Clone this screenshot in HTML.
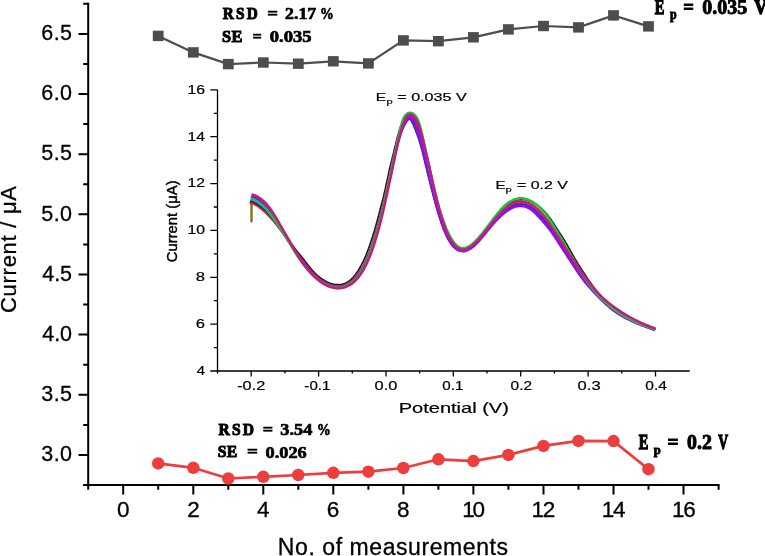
<!DOCTYPE html>
<html><head><meta charset="utf-8"><style>html,body{margin:0;padding:0;background:#fff;overflow:hidden}svg{display:block;will-change:transform}</style></head>
<body>
<svg width="765" height="556" viewBox="0 0 765 556">
<rect width="100%" height="100%" fill="#fff"/>
<g stroke="#000" stroke-width="2" fill="none" stroke-linecap="butt">
<path d="M88.2 2.8 V486.0 M83.2 485 H719.6"/>
<path d="M83.2 485.0 H88 M78.5 454.9 H88 M83.2 424.9 H88 M78.5 394.8 H88 M83.2 364.7 H88 M78.5 334.6 H88 M83.2 304.6 H88 M78.5 274.5 H88 M83.2 244.4 H88 M78.5 214.3 H88 M83.2 184.2 H88 M78.5 154.2 H88 M83.2 124.1 H88 M78.5 94.0 H88 M83.2 63.9 H88 M78.5 33.9 H88 M83.2 3.8 H88 M88.2 485 V489.8 M123.2 485 V494.5 M158.2 485 V489.8 M193.3 485 V494.5 M228.3 485 V489.8 M263.3 485 V494.5 M298.3 485 V489.8 M333.3 485 V494.5 M368.4 485 V489.8 M403.4 485 V494.5 M438.4 485 V489.8 M473.4 485 V494.5 M508.4 485 V489.8 M543.5 485 V494.5 M578.5 485 V489.8 M613.5 485 V494.5 M648.5 485 V489.8 M683.5 485 V494.5 M718.6 485 V489.8"/>
</g>
<text transform="translate(16.2,313) rotate(-90)" font-family="&quot;Liberation Sans&quot;, sans-serif" font-size="22" fill="#000" stroke="#000" stroke-width="0.3" textLength="127" lengthAdjust="spacing">Current / μA</text>
<polyline points="158.2,35.9 193.3,52.4 228.3,64.1 263.3,62.5 298.3,63.7 333.3,61.3 368.4,63.4 403.4,40.4 438.4,41.2 473.4,37.3 508.4,29.4 543.5,26.0 578.5,27.4 613.5,15.4 648.5,26.4" fill="none" stroke="#4d4d4d" stroke-width="2.2"/>
<rect x="152.8" y="30.7" width="10.8" height="10.4" fill="#4d4d4d"/>
<rect x="187.9" y="47.2" width="10.8" height="10.4" fill="#4d4d4d"/>
<rect x="222.9" y="58.9" width="10.8" height="10.4" fill="#4d4d4d"/>
<rect x="257.9" y="57.3" width="10.8" height="10.4" fill="#4d4d4d"/>
<rect x="292.9" y="58.5" width="10.8" height="10.4" fill="#4d4d4d"/>
<rect x="327.9" y="56.1" width="10.8" height="10.4" fill="#4d4d4d"/>
<rect x="363.0" y="58.2" width="10.8" height="10.4" fill="#4d4d4d"/>
<rect x="398.0" y="35.2" width="10.8" height="10.4" fill="#4d4d4d"/>
<rect x="433.0" y="36.0" width="10.8" height="10.4" fill="#4d4d4d"/>
<rect x="468.0" y="32.1" width="10.8" height="10.4" fill="#4d4d4d"/>
<rect x="503.0" y="24.2" width="10.8" height="10.4" fill="#4d4d4d"/>
<rect x="538.1" y="20.8" width="10.8" height="10.4" fill="#4d4d4d"/>
<rect x="573.1" y="22.2" width="10.8" height="10.4" fill="#4d4d4d"/>
<rect x="608.1" y="10.2" width="10.8" height="10.4" fill="#4d4d4d"/>
<rect x="643.1" y="21.2" width="10.8" height="10.4" fill="#4d4d4d"/>
<polyline points="158.2,463.4 193.3,467.8 228.3,478.5 263.3,476.8 298.3,475.0 333.3,472.8 368.4,471.7 403.4,468.0 438.4,459.3 473.4,461.1 508.4,454.9 543.5,445.9 578.5,440.9 613.5,441.1 648.5,469.2" fill="none" stroke="#ee3d3d" stroke-width="2.7"/>
<circle cx="158.2" cy="463.4" r="6.25" fill="#ee3d3d"/>
<circle cx="193.3" cy="467.8" r="6.25" fill="#ee3d3d"/>
<circle cx="228.3" cy="478.5" r="6.25" fill="#ee3d3d"/>
<circle cx="263.3" cy="476.8" r="6.25" fill="#ee3d3d"/>
<circle cx="298.3" cy="475.0" r="6.25" fill="#ee3d3d"/>
<circle cx="333.3" cy="472.8" r="6.25" fill="#ee3d3d"/>
<circle cx="368.4" cy="471.7" r="6.25" fill="#ee3d3d"/>
<circle cx="403.4" cy="468.0" r="6.25" fill="#ee3d3d"/>
<circle cx="438.4" cy="459.3" r="6.25" fill="#ee3d3d"/>
<circle cx="473.4" cy="461.1" r="6.25" fill="#ee3d3d"/>
<circle cx="508.4" cy="454.9" r="6.25" fill="#ee3d3d"/>
<circle cx="543.5" cy="445.9" r="6.25" fill="#ee3d3d"/>
<circle cx="578.5" cy="440.9" r="6.25" fill="#ee3d3d"/>
<circle cx="613.5" cy="441.1" r="6.25" fill="#ee3d3d"/>
<circle cx="648.5" cy="469.2" r="6.25" fill="#ee3d3d"/>
<g stroke="#000" stroke-width="1.3" fill="none">
<path d="M217.5 89.8 V371.6 M217 371.0 H689.8"/>
<path d="M210.3 371.0 H217.5 M213.8 347.6 H217.5 M210.3 324.1 H217.5 M213.8 300.7 H217.5 M210.3 277.3 H217.5 M213.8 253.8 H217.5 M210.3 230.4 H217.5 M213.8 207.0 H217.5 M210.3 183.6 H217.5 M213.8 160.1 H217.5 M210.3 136.7 H217.5 M213.8 113.3 H217.5 M210.3 89.8 H217.5 M217.5 371 V373.6 M251.2 371 V376.4 M284.9 371 V373.6 M318.6 371 V376.4 M352.3 371 V373.6 M386.0 371 V376.4 M419.6 371 V373.6 M453.3 371 V376.4 M487.0 371 V373.6 M520.7 371 V376.4 M554.4 371 V373.6 M588.1 371 V376.4 M621.8 371 V373.6 M655.5 371 V376.4"/>
</g>
<g fill="#000"><text x="41.32" y="461.12" font-family="'Liberation Sans', sans-serif" font-size="21.5" stroke="#000" stroke-width="0.3" textLength="30.75" lengthAdjust="spacing">3.0</text><text x="41.32" y="400.97" font-family="'Liberation Sans', sans-serif" font-size="21.5" stroke="#000" stroke-width="0.3" textLength="30.75" lengthAdjust="spacing">3.5</text><text x="42.32" y="340.82" font-family="'Liberation Sans', sans-serif" font-size="21.5" stroke="#000" stroke-width="0.3" textLength="29.75" lengthAdjust="spacing">4.0</text><text x="42.32" y="280.68" font-family="'Liberation Sans', sans-serif" font-size="21.5" stroke="#000" stroke-width="0.3" textLength="29.75" lengthAdjust="spacing">4.5</text><text x="41.32" y="220.52" font-family="'Liberation Sans', sans-serif" font-size="21.5" stroke="#000" stroke-width="0.3" textLength="30.75" lengthAdjust="spacing">5.0</text><text x="41.32" y="160.38" font-family="'Liberation Sans', sans-serif" font-size="21.5" stroke="#000" stroke-width="0.3" textLength="30.75" lengthAdjust="spacing">5.5</text><text x="41.32" y="100.23" font-family="'Liberation Sans', sans-serif" font-size="21.5" stroke="#000" stroke-width="0.3" textLength="30.75" lengthAdjust="spacing">6.0</text><text x="41.32" y="40.08" font-family="'Liberation Sans', sans-serif" font-size="21.5" stroke="#000" stroke-width="0.3" textLength="30.75" lengthAdjust="spacing">6.5</text><text x="116.94" y="517.00" font-family="'Liberation Sans', sans-serif" font-size="22.5" stroke="#000" stroke-width="0.3">0</text><text x="187.18" y="517.00" font-family="'Liberation Sans', sans-serif" font-size="22.5" stroke="#000" stroke-width="0.3">2</text><text x="256.93" y="517.00" font-family="'Liberation Sans', sans-serif" font-size="22.5" stroke="#000" stroke-width="0.3">4</text><text x="326.67" y="517.00" font-family="'Liberation Sans', sans-serif" font-size="22.5" stroke="#000" stroke-width="0.3">6</text><text x="396.91" y="517.00" font-family="'Liberation Sans', sans-serif" font-size="22.5" stroke="#000" stroke-width="0.3">8</text><text x="462.20" y="517.00" font-family="'Liberation Sans', sans-serif" font-size="22.5" stroke="#000" stroke-width="0.3" textLength="22.85" lengthAdjust="spacing">10</text><text x="531.44" y="517.00" font-family="'Liberation Sans', sans-serif" font-size="22.5" stroke="#000" stroke-width="0.3" textLength="23.85" lengthAdjust="spacing">12</text><text x="601.68" y="517.00" font-family="'Liberation Sans', sans-serif" font-size="22.5" stroke="#000" stroke-width="0.3" textLength="23.85" lengthAdjust="spacing">14</text><text x="671.92" y="517.00" font-family="'Liberation Sans', sans-serif" font-size="22.5" stroke="#000" stroke-width="0.3" textLength="23.85" lengthAdjust="spacing">16</text><text x="277.85" y="554.90" font-family="'Liberation Sans', sans-serif" font-size="23" stroke="#000" stroke-width="0.3" textLength="230.10" lengthAdjust="spacing">No. of measurements</text><text letter-spacing="2.54" x="222.73" y="18.80" font-family="'Liberation Serif', serif" font-weight="bold" font-size="17.4" stroke="#000" stroke-width="1.0" textLength="37.34" lengthAdjust="spacingAndGlyphs">RSD</text><text x="267.33" y="18.80" font-family="'Liberation Serif', serif" font-weight="bold" font-size="17.4" stroke="#000" stroke-width="0.7" textLength="10.74" lengthAdjust="spacingAndGlyphs">=</text><text x="319.93" y="18.80" font-family="'Liberation Serif', serif" font-weight="bold" font-size="17.4" stroke="#000" stroke-width="0.7" textLength="13.74" lengthAdjust="spacingAndGlyphs">%</text><text x="285.14" y="19.10" font-family="'Liberation Serif', serif" font-weight="bold" font-size="17.2" stroke="#000" stroke-width="0.7" textLength="31.12" lengthAdjust="spacingAndGlyphs">2.17</text><text letter-spacing="0.52" x="221.93" y="42.10" font-family="'Liberation Serif', serif" font-weight="bold" font-size="17.4" stroke="#000" stroke-width="1.0" textLength="20.94" lengthAdjust="spacingAndGlyphs">SE</text><text x="252.53" y="42.10" font-family="'Liberation Serif', serif" font-weight="bold" font-size="17.4" stroke="#000" stroke-width="0.7" textLength="9.34" lengthAdjust="spacingAndGlyphs">=</text><text x="269.74" y="42.30" font-family="'Liberation Serif', serif" font-weight="bold" font-size="17.2" stroke="#000" stroke-width="0.7" textLength="41.92" lengthAdjust="spacingAndGlyphs">0.035</text><text letter-spacing="2.37" x="218.53" y="434.60" font-family="'Liberation Serif', serif" font-weight="bold" font-size="17.4" stroke="#000" stroke-width="1.0" textLength="37.54" lengthAdjust="spacingAndGlyphs">RSD</text><text x="262.73" y="434.60" font-family="'Liberation Serif', serif" font-weight="bold" font-size="17.4" stroke="#000" stroke-width="0.7" textLength="10.34" lengthAdjust="spacingAndGlyphs">=</text><text x="316.93" y="434.60" font-family="'Liberation Serif', serif" font-weight="bold" font-size="17.4" stroke="#000" stroke-width="0.7" textLength="13.74" lengthAdjust="spacingAndGlyphs">%</text><text x="280.34" y="434.90" font-family="'Liberation Serif', serif" font-weight="bold" font-size="17.2" stroke="#000" stroke-width="0.7" textLength="31.92" lengthAdjust="spacingAndGlyphs">3.54</text><text letter-spacing="0.29" x="217.73" y="457.40" font-family="'Liberation Serif', serif" font-weight="bold" font-size="17.4" stroke="#000" stroke-width="1.0" textLength="19.74" lengthAdjust="spacingAndGlyphs">SE</text><text x="247.13" y="457.40" font-family="'Liberation Serif', serif" font-weight="bold" font-size="17.4" stroke="#000" stroke-width="0.7" textLength="10.94" lengthAdjust="spacingAndGlyphs">=</text><text x="265.54" y="457.60" font-family="'Liberation Serif', serif" font-weight="bold" font-size="17.2" stroke="#000" stroke-width="0.7" textLength="41.12" lengthAdjust="spacingAndGlyphs">0.026</text><text x="654.77" y="13.70" font-family="'Liberation Serif', serif" font-weight="bold" font-size="20.5" stroke="#000" stroke-width="1.3" textLength="9.65" lengthAdjust="spacingAndGlyphs">E</text><text x="683.37" y="13.70" font-family="'Liberation Serif', serif" font-weight="bold" font-size="20.5" stroke="#000" stroke-width="0.9" textLength="10.65" lengthAdjust="spacingAndGlyphs">=</text><text x="702.37" y="13.70" font-family="'Liberation Serif', serif" font-weight="bold" font-size="20.5" stroke="#000" stroke-width="0.9" textLength="44.85" lengthAdjust="spacingAndGlyphs">0.035</text><text x="754.37" y="13.70" font-family="'Liberation Serif', serif" font-weight="bold" font-size="20.5" stroke="#000" stroke-width="1.3" textLength="12.85" lengthAdjust="spacingAndGlyphs">V</text><text x="669.88" y="18.70" font-family="'Liberation Serif', serif" font-weight="bold" font-size="14.5" stroke="#000" stroke-width="0.9" textLength="6.65" lengthAdjust="spacingAndGlyphs">p</text><text x="638.80" y="448.70" font-family="'Liberation Serif', serif" font-weight="bold" font-size="20" stroke="#000" stroke-width="1.3" textLength="9.60" lengthAdjust="spacingAndGlyphs">E</text><text x="667.60" y="448.70" font-family="'Liberation Serif', serif" font-weight="bold" font-size="20" stroke="#000" stroke-width="0.9" textLength="11.00" lengthAdjust="spacingAndGlyphs">=</text><text x="687.00" y="448.70" font-family="'Liberation Serif', serif" font-weight="bold" font-size="20" stroke="#000" stroke-width="0.9" textLength="24.80" lengthAdjust="spacingAndGlyphs">0.2</text><text x="718.20" y="448.70" font-family="'Liberation Serif', serif" font-weight="bold" font-size="20" stroke="#000" stroke-width="1.3" textLength="9.80" lengthAdjust="spacingAndGlyphs">V</text><text x="653.72" y="454.10" font-family="'Liberation Serif', serif" font-weight="bold" font-size="13.5" stroke="#000" stroke-width="0.9" textLength="6.95" lengthAdjust="spacingAndGlyphs">p</text><text x="196.78" y="374.90" font-family="'Liberation Sans', sans-serif" font-size="12.5" stroke="#000" stroke-width="0.2" textLength="8.25" lengthAdjust="spacingAndGlyphs">4</text><text x="195.78" y="328.04" font-family="'Liberation Sans', sans-serif" font-size="12.5" stroke="#000" stroke-width="0.2" textLength="9.25" lengthAdjust="spacingAndGlyphs">6</text><text x="195.78" y="281.18" font-family="'Liberation Sans', sans-serif" font-size="12.5" stroke="#000" stroke-width="0.2" textLength="9.25" lengthAdjust="spacingAndGlyphs">8</text><text x="187.58" y="234.32" font-family="'Liberation Sans', sans-serif" font-size="12.5" stroke="#000" stroke-width="0.2" textLength="17.45" lengthAdjust="spacingAndGlyphs">10</text><text x="187.58" y="187.46" font-family="'Liberation Sans', sans-serif" font-size="12.5" stroke="#000" stroke-width="0.2" textLength="17.45" lengthAdjust="spacingAndGlyphs">12</text><text x="187.58" y="140.60" font-family="'Liberation Sans', sans-serif" font-size="12.5" stroke="#000" stroke-width="0.2" textLength="17.45" lengthAdjust="spacingAndGlyphs">14</text><text x="187.58" y="93.74" font-family="'Liberation Sans', sans-serif" font-size="12.5" stroke="#000" stroke-width="0.2" textLength="17.45" lengthAdjust="spacingAndGlyphs">16</text><text x="237.18" y="390.10" font-family="'Liberation Sans', sans-serif" font-size="12.4" stroke="#000" stroke-width="0.2" textLength="28.04" lengthAdjust="spacingAndGlyphs">-0.2</text><text x="304.38" y="390.10" font-family="'Liberation Sans', sans-serif" font-size="12.4" stroke="#000" stroke-width="0.2" textLength="26.04" lengthAdjust="spacingAndGlyphs">-0.1</text><text x="374.58" y="390.10" font-family="'Liberation Sans', sans-serif" font-size="12.4" stroke="#000" stroke-width="0.2" textLength="22.84" lengthAdjust="spacingAndGlyphs">0.0</text><text x="442.38" y="390.10" font-family="'Liberation Sans', sans-serif" font-size="12.4" stroke="#000" stroke-width="0.2" textLength="21.04" lengthAdjust="spacingAndGlyphs">0.1</text><text x="510.58" y="390.10" font-family="'Liberation Sans', sans-serif" font-size="12.4" stroke="#000" stroke-width="0.2" textLength="21.44" lengthAdjust="spacingAndGlyphs">0.2</text><text x="577.58" y="390.10" font-family="'Liberation Sans', sans-serif" font-size="12.4" stroke="#000" stroke-width="0.2" textLength="23.04" lengthAdjust="spacingAndGlyphs">0.3</text><text x="645.38" y="390.10" font-family="'Liberation Sans', sans-serif" font-size="12.4" stroke="#000" stroke-width="0.2" textLength="21.64" lengthAdjust="spacingAndGlyphs">0.4</text><text x="398.68" y="412.50" font-family="'Liberation Sans', sans-serif" font-size="14.4" stroke="#000" stroke-width="0.2" textLength="110.24" lengthAdjust="spacingAndGlyphs">Potential (V)</text><text x="375.83" y="100.70" font-family="'Liberation Sans', sans-serif" font-size="11.3" stroke="#000" stroke-width="0.2" textLength="10.33" lengthAdjust="spacingAndGlyphs">E</text><text x="386.60" y="104.30" font-family="'Liberation Sans', sans-serif" font-size="8" stroke="#000" stroke-width="0.2" textLength="6.20" lengthAdjust="spacingAndGlyphs">p</text><text x="397.24" y="100.70" font-family="'Liberation Sans', sans-serif" font-size="11.3" stroke="#000" stroke-width="0.2" textLength="69.53" lengthAdjust="spacingAndGlyphs">= 0.035 V</text><text x="495.44" y="188.90" font-family="'Liberation Sans', sans-serif" font-size="11.3" stroke="#000" stroke-width="0.2" textLength="10.13" lengthAdjust="spacingAndGlyphs">E</text><text x="505.60" y="191.90" font-family="'Liberation Sans', sans-serif" font-size="8" stroke="#000" stroke-width="0.2" textLength="6.20" lengthAdjust="spacingAndGlyphs">p</text><text x="517.04" y="188.90" font-family="'Liberation Sans', sans-serif" font-size="11.3" stroke="#000" stroke-width="0.2" textLength="50.93" lengthAdjust="spacingAndGlyphs">= 0.2 V</text></g>
<text transform="translate(176.8,262.2) rotate(-90)" font-family="&quot;Liberation Sans&quot;, sans-serif" font-size="14" fill="#000" stroke="#000" stroke-width="0.45" textLength="81.8" lengthAdjust="spacingAndGlyphs">Current (μA)</text>
<g fill="none" stroke-linejoin="round" stroke-linecap="round">
<path d="M251.5 200.5 V221" stroke="#857514" stroke-width="2.4" stroke-linecap="butt"/>
<circle cx="251.5" cy="221.5" r="1.1" fill="#c020c0" stroke="none"/>
<path d="M250.6 202.2 L251.5 202.4 L252.3 202.7 L253.1 203.0 L254.0 203.4 L254.8 203.8 L255.6 204.2 L256.4 204.6 L257.2 205.1 L258.1 205.6 L258.9 206.2 L259.7 206.7 L260.4 207.3 L261.2 207.9 L262.0 208.6 L262.8 209.2 L263.5 209.9 L264.3 210.5 L265.0 211.2 L265.8 211.9 L266.5 212.6 L267.3 213.4 L268.0 214.1 L268.7 214.8 L269.4 215.6 L270.1 216.4 L270.8 217.1 L271.5 217.9 L272.2 218.7 L272.9 219.5 L273.6 220.3 L274.3 221.1 L274.9 221.9 L275.6 222.7 L276.3 223.5 L276.9 224.3 L277.6 225.2 L278.2 226.0 L278.9 226.8 L279.5 227.7 L280.1 228.5 L280.8 229.4 L281.4 230.2 L282.0 231.1 L282.6 231.9 L283.3 232.8 L283.9 233.6 L284.5 234.5 L285.1 235.3 L285.7 236.2 L286.4 237.0 L287.0 237.9 L287.6 238.8 L288.2 239.6 L288.8 240.5 L289.4 241.3 L290.1 242.2 L290.7 243.0 L291.3 243.9 L291.9 244.7 L292.6 245.6 L293.2 246.4 L293.9 247.2 L294.5 248.1 L295.2 248.9 L295.8 249.7 L296.5 250.6 L297.2 251.4 L297.8 252.2 L298.5 253.0 L299.1 253.8 L299.8 254.6 L300.5 255.5 L301.1 256.3 L301.8 257.1 L302.4 257.9 L303.1 258.7 L303.7 259.6 L304.4 260.4 L305.0 261.2 L305.6 262.0 L306.3 262.8 L306.9 263.6 L307.5 264.5 L308.2 265.3 L308.8 266.1 L309.5 266.9 L310.1 267.7 L310.8 268.5 L311.5 269.3 L312.1 270.1 L312.8 270.8 L313.5 271.6 L314.2 272.3 L314.9 273.1 L315.7 273.8 L316.4 274.5 L317.1 275.2 L317.9 275.9 L318.7 276.5 L319.5 277.2 L320.3 277.8 L321.1 278.4 L321.9 279.0 L322.8 279.5 L323.6 280.1 L324.5 280.6 L325.3 281.1 L326.2 281.5 L327.1 282.0 L328.0 282.4 L328.9 282.8 L329.8 283.1 L330.8 283.4 L331.7 283.7 L332.6 284.0 L333.6 284.2 L334.5 284.4 L335.5 284.5 L336.4 284.6 L337.4 284.7 L338.3 284.7 L339.2 284.7 L340.2 284.6 L341.1 284.5 L342.0 284.3 L342.9 284.1 L343.8 283.8 L344.7 283.5 L345.6 283.1 L346.4 282.7 L347.3 282.2 L348.1 281.7 L348.9 281.2 L349.6 280.6 L350.4 280.0 L351.1 279.4 L351.8 278.7 L352.5 278.0 L353.2 277.3 L353.8 276.6 L354.4 275.8 L355.1 275.0 L355.7 274.2 L356.2 273.4 L356.8 272.6 L357.4 271.8 L357.9 271.0 L358.5 270.1 L359.0 269.2 L359.5 268.4 L360.0 267.5 L360.5 266.6 L361.0 265.7 L361.5 264.8 L362.0 263.9 L362.4 263.0 L362.9 262.1 L363.3 261.2 L363.8 260.2 L364.2 259.3 L364.6 258.3 L365.0 257.4 L365.5 256.4 L365.9 255.5 L366.2 254.5 L366.6 253.6 L367.0 252.6 L367.4 251.6 L367.7 250.7 L368.1 249.7 L368.5 248.7 L368.8 247.7 L369.2 246.8 L369.5 245.8 L369.9 244.8 L370.2 243.8 L370.5 242.8 L370.9 241.8 L371.2 240.8 L371.5 239.9 L371.9 238.9 L372.2 237.9 L372.5 236.9 L372.8 235.9 L373.1 234.9 L373.4 233.9 L373.8 232.9 L374.1 231.9 L374.4 230.9 L374.7 229.9 L375.0 228.9 L375.2 227.9 L375.5 226.9 L375.8 225.9 L376.1 224.8 L376.4 223.8 L376.7 222.8 L376.9 221.8 L377.2 220.8 L377.5 219.8 L377.8 218.8 L378.0 217.8 L378.3 216.7 L378.6 215.7 L378.8 214.7 L379.1 213.7 L379.3 212.7 L379.6 211.7 L379.9 210.6 L380.1 209.6 L380.4 208.6 L380.7 207.6 L380.9 206.6 L381.2 205.6 L381.5 204.5 L381.7 203.5 L382.0 202.5 L382.2 201.5 L382.5 200.5 L382.8 199.4 L383.0 198.4 L383.3 197.4 L383.5 196.4 L383.8 195.4 L384.0 194.3 L384.3 193.3 L384.5 192.3 L384.8 191.3 L385.0 190.2 L385.2 189.2 L385.5 188.2 L385.7 187.2 L385.9 186.1 L386.1 185.1 L386.4 184.1 L386.6 183.0 L386.8 182.0 L387.0 181.0 L387.2 179.9 L387.4 178.9 L387.7 177.9 L387.9 176.9 L388.1 175.8 L388.3 174.8 L388.5 173.8 L388.8 172.7 L389.0 171.7 L389.2 170.7 L389.4 169.6 L389.7 168.6 L389.9 167.6 L390.1 166.6 L390.4 165.5 L390.6 164.5 L390.9 163.5 L391.1 162.5 L391.4 161.4 L391.7 160.4 L391.9 159.4 L392.2 158.4 L392.4 157.3 L392.7 156.3 L392.9 155.3 L393.2 154.3 L393.5 153.2 L393.7 152.2 L394.0 151.2 L394.2 150.2 L394.5 149.1 L394.7 148.1 L395.0 147.1 L395.2 146.1 L395.5 145.0 L395.7 144.0 L396.0 143.0 L396.2 141.9 L396.5 140.9 L396.7 139.9 L397.0 138.9 L397.3 137.8 L397.5 136.8 L397.8 135.8 L398.1 134.8 L398.4 133.7 L398.7 132.7 L399.0 131.7 L399.3 130.7 L399.6 129.7 L399.9 128.6 L400.3 127.6 L400.6 126.6 L401.0 125.6 L401.4 124.6 L401.8 123.6 L402.2 122.6 L402.7 121.6 L403.2 120.7 L403.7 119.7 L404.3 118.8 L405.0 117.8 L405.7 116.9 L406.5 116.1 L407.5 115.3 L408.7 114.8 L410.1 114.7 L411.4 115.1 L412.4 115.8 L413.2 116.7 L413.8 117.6 L414.3 118.5 L414.8 119.5 L415.3 120.4 L415.7 121.4 L416.1 122.4 L416.4 123.4 L416.8 124.4 L417.1 125.4 L417.5 126.4 L417.8 127.4 L418.1 128.4 L418.4 129.4 L418.7 130.4 L419.0 131.4 L419.3 132.4 L419.6 133.5 L419.9 134.5 L420.2 135.5 L420.4 136.5 L420.7 137.5 L421.0 138.5 L421.3 139.5 L421.5 140.6 L421.8 141.6 L422.1 142.6 L422.3 143.6 L422.6 144.6 L422.8 145.7 L423.1 146.7 L423.3 147.7 L423.6 148.7 L423.8 149.8 L424.1 150.8 L424.3 151.8 L424.6 152.8 L424.8 153.9 L425.1 154.9 L425.3 155.9 L425.5 156.9 L425.8 158.0 L426.0 159.0 L426.2 160.0 L426.5 161.0 L426.7 162.1 L427.0 163.1 L427.2 164.1 L427.4 165.2 L427.7 166.2 L427.9 167.2 L428.1 168.2 L428.4 169.3 L428.6 170.3 L428.9 171.3 L429.1 172.3 L429.3 173.4 L429.6 174.4 L429.8 175.4 L430.1 176.4 L430.3 177.5 L430.6 178.5 L430.8 179.5 L431.1 180.5 L431.3 181.6 L431.6 182.6 L431.8 183.6 L432.1 184.6 L432.4 185.6 L432.6 186.7 L432.9 187.7 L433.1 188.7 L433.4 189.7 L433.7 190.8 L433.9 191.8 L434.2 192.8 L434.5 193.8 L434.7 194.8 L435.0 195.8 L435.3 196.9 L435.6 197.9 L435.8 198.9 L436.1 199.9 L436.4 200.9 L436.7 201.9 L437.0 203.0 L437.3 204.0 L437.6 205.0 L437.8 206.0 L438.1 207.0 L438.4 208.0 L438.7 209.0 L439.1 210.0 L439.4 211.0 L439.7 212.0 L440.0 213.1 L440.3 214.1 L440.6 215.1 L441.0 216.1 L441.3 217.1 L441.6 218.1 L442.0 219.0 L442.3 220.0 L442.7 221.0 L443.0 222.0 L443.4 223.0 L443.8 224.0 L444.1 225.0 L444.5 226.0 L444.9 226.9 L445.3 227.9 L445.7 228.9 L446.1 229.8 L446.6 230.8 L447.0 231.8 L447.4 232.7 L447.9 233.6 L448.3 234.6 L448.8 235.5 L449.3 236.4 L449.8 237.4 L450.3 238.3 L450.8 239.2 L451.4 240.0 L452.0 240.9 L452.6 241.7 L453.2 242.6 L453.8 243.4 L454.5 244.2 L455.2 244.9 L455.9 245.6 L456.6 246.3 L457.4 246.9 L458.2 247.4 L459.1 247.9 L460.0 248.3 L460.9 248.6 L461.8 248.8 L462.8 248.9 L463.7 248.8 L464.7 248.7 L465.7 248.5 L466.6 248.2 L467.5 247.8 L468.4 247.3 L469.3 246.8 L470.1 246.3 L471.0 245.7 L471.8 245.1 L472.6 244.4 L473.4 243.8 L474.2 243.1 L474.9 242.3 L475.7 241.6 L476.4 240.9 L477.1 240.1 L477.8 239.4 L478.5 238.6 L479.2 237.8 L479.9 237.0 L480.6 236.2 L481.3 235.4 L481.9 234.6 L482.6 233.8 L483.3 233.0 L483.9 232.1 L484.6 231.3 L485.2 230.5 L485.9 229.6 L486.5 228.8 L487.1 228.0 L487.8 227.1 L488.4 226.3 L489.1 225.5 L489.7 224.6 L490.4 223.8 L491.0 223.0 L491.6 222.1 L492.3 221.3 L492.9 220.4 L493.6 219.6 L494.2 218.8 L494.9 217.9 L495.6 217.1 L496.2 216.3 L496.9 215.5 L497.6 214.7 L498.3 213.8 L499.0 213.0 L499.7 212.2 L500.4 211.4 L501.2 210.6 L501.9 209.9 L502.7 209.1 L503.4 208.3 L504.2 207.6 L505.0 206.9 L505.9 206.1 L506.7 205.4 L507.6 204.8 L508.5 204.1 L509.4 203.4 L510.3 202.8 L511.3 202.3 L512.3 201.7 L513.4 201.2 L514.5 200.8 L515.6 200.4 L516.7 200.0 L517.9 199.8 L519.1 199.6 L520.3 199.4 L521.5 199.4 L522.7 199.4 L523.9 199.5 L525.2 199.7 L526.3 200.0 L527.5 200.3 L528.6 200.7 L529.8 201.1 L530.8 201.6 L531.9 202.1 L532.9 202.7 L533.9 203.3 L534.9 203.9 L535.9 204.5 L536.8 205.1 L537.8 205.8 L538.7 206.5 L539.6 207.2 L540.4 207.9 L541.3 208.6 L542.1 209.4 L543.0 210.1 L543.8 210.9 L544.5 211.7 L545.3 212.5 L546.1 213.3 L546.8 214.1 L547.5 214.9 L548.2 215.8 L548.8 216.7 L549.5 217.5 L550.1 218.4 L550.8 219.3 L551.4 220.2 L552.0 221.1 L552.6 222.0 L553.2 222.9 L553.7 223.8 L554.3 224.7 L554.9 225.6 L555.5 226.5 L556.0 227.4 L556.6 228.3 L557.2 229.2 L557.8 230.1 L558.4 231.0 L558.9 231.9 L559.5 232.8 L560.1 233.7 L560.7 234.5 L561.2 235.4 L561.8 236.3 L562.4 237.2 L563.0 238.1 L563.5 239.0 L564.1 239.9 L564.6 240.8 L565.2 241.7 L565.7 242.6 L566.3 243.5 L566.8 244.4 L567.3 245.3 L567.9 246.3 L568.4 247.2 L568.9 248.1 L569.4 249.0 L569.9 249.9 L570.4 250.9 L571.0 251.8 L571.5 252.7 L572.0 253.6 L572.5 254.5 L573.0 255.4 L573.6 256.3 L574.1 257.3 L574.6 258.2 L575.1 259.1 L575.7 260.0 L576.2 260.9 L576.7 261.8 L577.3 262.7 L577.8 263.6 L578.4 264.5 L578.9 265.3 L579.5 266.2 L580.1 267.1 L580.6 268.0 L581.2 268.9 L581.8 269.8 L582.3 270.6 L582.9 271.5 L583.5 272.4 L584.0 273.3 L584.6 274.1 L585.2 275.0 L585.8 275.9 L586.3 276.8 L586.9 277.6 L587.5 278.5 L588.1 279.4 L588.7 280.2 L589.3 281.1 L589.8 282.0 L590.4 282.8 L591.0 283.7 L591.6 284.5 L592.2 285.4 L592.9 286.2 L593.5 287.1 L594.1 287.9 L594.7 288.8 L595.4 289.6 L596.0 290.4 L596.7 291.2 L597.3 292.0 L598.0 292.8 L598.7 293.6 L599.4 294.4 L600.1 295.2 L600.8 295.9 L601.5 296.7 L602.3 297.4 L603.0 298.2 L603.8 298.9 L604.5 299.6 L605.3 300.3 L606.1 301.0 L606.9 301.7 L607.7 302.4 L608.4 303.1 L609.3 303.7 L610.1 304.4 L610.9 305.1 L611.7 305.7 L612.5 306.4 L613.3 307.0 L614.2 307.6 L615.0 308.2 L615.9 308.9 L616.7 309.5 L617.6 310.1 L618.4 310.7 L619.3 311.3 L620.1 311.9 L621.0 312.4 L621.9 313.0 L622.8 313.6 L623.7 314.1 L624.5 314.7 L625.4 315.2 L626.3 315.8 L627.2 316.3 L628.2 316.8 L629.1 317.3 L630.0 317.9 L630.9 318.4 L631.8 318.8 L632.8 319.3 L633.7 319.8 L634.6 320.3 L635.6 320.8 L636.5 321.2 L637.5 321.7 L638.4 322.1 L639.4 322.6 L640.3 323.0 L641.3 323.4 L642.2 323.9 L643.2 324.3 L644.2 324.7 L645.2 325.1 L646.1 325.5 L647.1 325.9 L648.1 326.3 L649.1 326.7 L650.0 327.1 L651.0 327.4 L652.0 327.8 L653.0 328.2 L654.0 328.6 L654.5 328.7" stroke="#1a1a1a" stroke-width="1.7"/>
<path d="M250.3 203.1 L251.2 203.3 L252.0 203.6 L252.8 203.9 L253.6 204.2 L254.3 204.6 L255.1 205.0 L255.9 205.4 L256.7 205.9 L257.5 206.4 L258.3 206.9 L259.1 207.5 L259.8 208.0 L260.6 208.6 L261.4 209.2 L262.1 209.9 L262.9 210.5 L263.6 211.2 L264.4 211.8 L265.1 212.5 L265.9 213.2 L266.6 213.9 L267.3 214.7 L268.0 215.4 L268.7 216.1 L269.5 216.9 L270.2 217.6 L270.9 218.4 L271.6 219.2 L272.2 220.0 L272.9 220.8 L273.6 221.5 L274.3 222.3 L275.0 223.2 L275.6 224.0 L276.3 224.8 L276.9 225.6 L277.6 226.4 L278.2 227.3 L278.9 228.1 L279.5 228.9 L280.1 229.8 L280.8 230.6 L281.4 231.5 L282.0 232.3 L282.6 233.2 L283.3 234.0 L283.9 234.9 L284.5 235.7 L285.1 236.6 L285.7 237.4 L286.3 238.3 L286.9 239.2 L287.5 240.0 L288.1 240.9 L288.8 241.8 L289.4 242.6 L290.0 243.5 L290.6 244.4 L291.2 245.2 L291.8 246.1 L292.4 246.9 L293.0 247.8 L293.7 248.6 L294.3 249.5 L294.9 250.3 L295.5 251.2 L296.2 252.0 L296.8 252.9 L297.4 253.7 L298.1 254.5 L298.7 255.4 L299.4 256.2 L300.0 257.1 L300.7 257.9 L301.3 258.7 L301.9 259.5 L302.6 260.4 L303.2 261.2 L303.9 262.0 L304.5 262.8 L305.2 263.7 L305.8 264.5 L306.5 265.3 L307.2 266.1 L307.8 266.9 L308.5 267.7 L309.2 268.5 L309.9 269.3 L310.6 270.1 L311.3 270.9 L312.0 271.6 L312.7 272.4 L313.4 273.1 L314.1 273.9 L314.9 274.6 L315.6 275.3 L316.4 276.0 L317.2 276.7 L318.0 277.4 L318.8 278.0 L319.6 278.7 L320.4 279.3 L321.3 279.9 L322.1 280.5 L323.0 281.0 L323.9 281.6 L324.8 282.1 L325.7 282.6 L326.6 283.0 L327.5 283.5 L328.5 283.9 L329.4 284.2 L330.4 284.6 L331.3 284.9 L332.3 285.2 L333.3 285.4 L334.3 285.6 L335.3 285.7 L336.3 285.8 L337.3 285.9 L338.3 285.9 L339.3 285.9 L340.3 285.8 L341.3 285.7 L342.3 285.5 L343.3 285.3 L344.2 285.0 L345.2 284.6 L346.1 284.3 L347.0 283.8 L347.9 283.4 L348.8 282.9 L349.6 282.3 L350.4 281.7 L351.2 281.1 L352.0 280.4 L352.8 279.8 L353.5 279.1 L354.2 278.3 L354.9 277.6 L355.6 276.8 L356.2 276.0 L356.9 275.2 L357.5 274.4 L358.1 273.5 L358.7 272.7 L359.3 271.8 L359.8 271.0 L360.4 270.1 L360.9 269.2 L361.4 268.3 L362.0 267.4 L362.5 266.5 L363.0 265.6 L363.4 264.7 L363.9 263.7 L364.4 262.8 L364.8 261.8 L365.3 260.9 L365.7 260.0 L366.1 259.0 L366.6 258.0 L367.0 257.1 L367.4 256.1 L367.8 255.1 L368.2 254.2 L368.5 253.2 L368.9 252.2 L369.3 251.2 L369.6 250.3 L370.0 249.3 L370.4 248.3 L370.7 247.3 L371.1 246.3 L371.4 245.3 L371.7 244.3 L372.1 243.3 L372.4 242.3 L372.7 241.3 L373.1 240.3 L373.4 239.3 L373.7 238.3 L374.0 237.3 L374.3 236.3 L374.6 235.3 L374.9 234.3 L375.2 233.3 L375.5 232.3 L375.8 231.3 L376.1 230.3 L376.4 229.3 L376.7 228.3 L377.0 227.3 L377.3 226.2 L377.5 225.2 L377.8 224.2 L378.1 223.2 L378.4 222.2 L378.6 221.2 L378.9 220.1 L379.2 219.1 L379.4 218.1 L379.7 217.1 L379.9 216.1 L380.2 215.1 L380.5 214.0 L380.7 213.0 L381.0 212.0 L381.2 211.0 L381.5 209.9 L381.7 208.9 L382.0 207.9 L382.2 206.9 L382.5 205.9 L382.7 204.8 L383.0 203.8 L383.2 202.8 L383.5 201.8 L383.7 200.7 L384.0 199.7 L384.2 198.7 L384.4 197.7 L384.7 196.6 L384.9 195.6 L385.2 194.6 L385.4 193.6 L385.6 192.5 L385.9 191.5 L386.1 190.5 L386.3 189.5 L386.6 188.4 L386.8 187.4 L387.0 186.4 L387.2 185.3 L387.5 184.3 L387.7 183.3 L387.9 182.2 L388.1 181.2 L388.3 180.2 L388.6 179.2 L388.8 178.1 L389.0 177.1 L389.2 176.1 L389.4 175.0 L389.7 174.0 L389.9 173.0 L390.1 171.9 L390.3 170.9 L390.6 169.9 L390.8 168.9 L391.0 167.8 L391.2 166.8 L391.5 165.8 L391.7 164.7 L391.9 163.7 L392.2 162.7 L392.4 161.7 L392.7 160.6 L392.9 159.6 L393.1 158.6 L393.4 157.6 L393.6 156.5 L393.9 155.5 L394.1 154.5 L394.4 153.5 L394.6 152.4 L394.9 151.4 L395.1 150.4 L395.4 149.3 L395.6 148.3 L395.9 147.3 L396.1 146.3 L396.4 145.3 L396.6 144.2 L396.9 143.2 L397.1 142.2 L397.4 141.2 L397.7 140.1 L397.9 139.1 L398.2 138.1 L398.5 137.1 L398.8 136.1 L399.1 135.0 L399.4 134.0 L399.7 133.0 L400.0 132.0 L400.3 131.0 L400.7 130.0 L401.0 129.0 L401.4 128.0 L401.7 127.0 L402.1 126.0 L402.5 125.0 L402.9 124.1 L403.4 123.1 L403.8 122.1 L404.3 121.2 L404.8 120.3 L405.4 119.4 L406.0 118.5 L406.6 117.7 L407.4 116.9 L408.2 116.3 L409.1 115.9 L410.0 115.8 L410.9 116.1 L411.7 116.6 L412.4 117.3 L413.0 118.1 L413.6 119.0 L414.1 119.9 L414.5 120.8 L415.0 121.8 L415.4 122.7 L415.8 123.7 L416.1 124.7 L416.5 125.6 L416.9 126.6 L417.2 127.6 L417.6 128.6 L417.9 129.6 L418.2 130.6 L418.5 131.6 L418.8 132.6 L419.2 133.6 L419.5 134.6 L419.8 135.6 L420.1 136.6 L420.3 137.6 L420.6 138.6 L420.9 139.6 L421.2 140.7 L421.5 141.7 L421.7 142.7 L422.0 143.7 L422.3 144.7 L422.5 145.7 L422.8 146.8 L423.0 147.8 L423.3 148.8 L423.6 149.8 L423.8 150.9 L424.1 151.9 L424.3 152.9 L424.6 153.9 L424.8 154.9 L425.0 156.0 L425.3 157.0 L425.5 158.0 L425.8 159.0 L426.0 160.1 L426.2 161.1 L426.5 162.1 L426.7 163.2 L427.0 164.2 L427.2 165.2 L427.4 166.2 L427.7 167.3 L427.9 168.3 L428.2 169.3 L428.4 170.3 L428.6 171.4 L428.9 172.4 L429.1 173.4 L429.4 174.4 L429.6 175.5 L429.9 176.5 L430.1 177.5 L430.4 178.5 L430.6 179.6 L430.9 180.6 L431.1 181.6 L431.4 182.6 L431.6 183.7 L431.9 184.7 L432.1 185.7 L432.4 186.7 L432.7 187.7 L432.9 188.8 L433.2 189.8 L433.4 190.8 L433.7 191.8 L434.0 192.9 L434.2 193.9 L434.5 194.9 L434.8 195.9 L435.1 196.9 L435.3 197.9 L435.6 199.0 L435.9 200.0 L436.2 201.0 L436.4 202.0 L436.7 203.0 L437.0 204.0 L437.3 205.1 L437.6 206.1 L437.9 207.1 L438.2 208.1 L438.5 209.1 L438.8 210.1 L439.1 211.1 L439.4 212.1 L439.7 213.1 L440.0 214.1 L440.4 215.1 L440.7 216.1 L441.0 217.1 L441.3 218.1 L441.7 219.1 L442.0 220.1 L442.4 221.1 L442.7 222.1 L443.1 223.1 L443.5 224.1 L443.8 225.1 L444.2 226.1 L444.6 227.1 L445.0 228.0 L445.4 229.0 L445.8 230.0 L446.2 230.9 L446.7 231.9 L447.1 232.9 L447.5 233.8 L448.0 234.7 L448.5 235.7 L449.0 236.6 L449.5 237.5 L450.0 238.5 L450.5 239.4 L451.1 240.2 L451.6 241.1 L452.2 242.0 L452.8 242.8 L453.5 243.6 L454.1 244.4 L454.8 245.2 L455.6 245.9 L456.4 246.6 L457.2 247.2 L458.0 247.8 L458.9 248.3 L459.8 248.7 L460.8 249.0 L461.8 249.2 L462.8 249.3 L463.8 249.2 L464.8 249.1 L465.8 248.9 L466.7 248.5 L467.7 248.1 L468.6 247.7 L469.5 247.2 L470.4 246.6 L471.2 246.0 L472.0 245.4 L472.8 244.7 L473.6 244.0 L474.4 243.3 L475.2 242.6 L475.9 241.9 L476.6 241.1 L477.4 240.4 L478.1 239.6 L478.8 238.8 L479.5 238.0 L480.2 237.2 L480.8 236.4 L481.5 235.6 L482.2 234.8 L482.9 234.0 L483.5 233.2 L484.2 232.3 L484.8 231.5 L485.5 230.7 L486.1 229.9 L486.8 229.0 L487.4 228.2 L488.1 227.4 L488.7 226.5 L489.4 225.7 L490.0 224.9 L490.7 224.0 L491.3 223.2 L492.0 222.4 L492.6 221.6 L493.3 220.7 L494.0 219.9 L494.6 219.1 L495.3 218.3 L496.0 217.5 L496.6 216.7 L497.3 215.8 L498.0 215.0 L498.7 214.3 L499.4 213.5 L500.2 212.7 L500.9 211.9 L501.6 211.2 L502.4 210.4 L503.2 209.7 L503.9 208.9 L504.7 208.2 L505.6 207.5 L506.4 206.8 L507.2 206.2 L508.1 205.5 L509.0 204.9 L509.9 204.3 L510.9 203.8 L511.8 203.3 L512.8 202.8 L513.8 202.3 L514.8 202.0 L515.9 201.6 L517.0 201.4 L518.1 201.1 L519.2 201.0 L520.3 200.9 L521.4 200.9 L522.6 201.0 L523.7 201.2 L524.8 201.4 L525.9 201.6 L526.9 202.0 L528.0 202.4 L529.0 202.8 L530.0 203.3 L530.9 203.8 L531.9 204.4 L532.8 205.0 L533.7 205.6 L534.6 206.2 L535.4 206.9 L536.3 207.6 L537.1 208.3 L537.9 209.0 L538.7 209.7 L539.5 210.5 L540.2 211.2 L541.0 212.0 L541.7 212.8 L542.4 213.6 L543.1 214.4 L543.8 215.2 L544.5 216.0 L545.2 216.8 L545.8 217.7 L546.5 218.5 L547.1 219.4 L547.7 220.2 L548.3 221.1 L549.0 222.0 L549.6 222.8 L550.2 223.7 L550.8 224.6 L551.4 225.4 L552.0 226.3 L552.5 227.2 L553.1 228.1 L553.7 229.0 L554.3 229.9 L554.9 230.7 L555.4 231.6 L556.0 232.5 L556.6 233.4 L557.2 234.3 L557.7 235.2 L558.3 236.1 L558.9 237.0 L559.4 237.9 L560.0 238.7 L560.5 239.6 L561.1 240.5 L561.7 241.4 L562.2 242.3 L562.8 243.2 L563.3 244.1 L563.9 245.0 L564.4 245.9 L565.0 246.8 L565.5 247.7 L566.1 248.6 L566.6 249.5 L567.2 250.4 L567.8 251.3 L568.3 252.2 L568.9 253.1 L569.4 254.0 L570.0 254.9 L570.5 255.8 L571.1 256.7 L571.6 257.6 L572.2 258.5 L572.8 259.3 L573.3 260.2 L573.9 261.1 L574.5 262.0 L575.0 262.9 L575.6 263.8 L576.2 264.7 L576.7 265.5 L577.3 266.4 L577.9 267.3 L578.5 268.2 L579.1 269.0 L579.7 269.9 L580.3 270.8 L580.9 271.6 L581.5 272.5 L582.1 273.4 L582.7 274.2 L583.3 275.1 L583.9 276.0 L584.5 276.8 L585.1 277.7 L585.7 278.5 L586.3 279.4 L587.0 280.2 L587.6 281.0 L588.2 281.9 L588.9 282.7 L589.5 283.6 L590.1 284.4 L590.8 285.2 L591.4 286.0 L592.1 286.9 L592.7 287.7 L593.4 288.5 L594.1 289.3 L594.8 290.1 L595.4 290.9 L596.1 291.7 L596.8 292.5 L597.5 293.3 L598.2 294.0 L599.0 294.8 L599.7 295.6 L600.4 296.3 L601.2 297.1 L601.9 297.8 L602.7 298.5 L603.4 299.3 L604.2 300.0 L605.0 300.7 L605.7 301.4 L606.5 302.1 L607.3 302.8 L608.1 303.5 L608.9 304.1 L609.7 304.8 L610.6 305.4 L611.4 306.1 L612.2 306.7 L613.1 307.4 L613.9 308.0 L614.8 308.6 L615.6 309.2 L616.5 309.8 L617.3 310.4 L618.2 311.0 L619.1 311.6 L619.9 312.2 L620.8 312.7 L621.7 313.3 L622.6 313.8 L623.5 314.4 L624.4 314.9 L625.3 315.5 L626.2 316.0 L627.1 316.5 L628.1 317.0 L629.0 317.5 L629.9 318.0 L630.8 318.5 L631.8 319.0 L632.7 319.5 L633.6 319.9 L634.6 320.4 L635.5 320.8 L636.5 321.3 L637.4 321.7 L638.4 322.2 L639.3 322.6 L640.3 323.0 L641.3 323.5 L642.2 323.9 L643.2 324.3 L644.2 324.7 L645.2 325.1 L646.1 325.5 L647.1 325.9 L648.1 326.3 L649.1 326.7 L650.0 327.0 L651.0 327.4 L652.0 327.8 L653.0 328.1 L654.0 328.5 L654.5 328.7" stroke="#e02828" stroke-width="1.7"/>
<path d="M250.9 201.0 L251.8 201.3 L252.7 201.6 L253.6 201.9 L254.5 202.3 L255.4 202.7 L256.2 203.2 L257.1 203.7 L257.9 204.2 L258.7 204.8 L259.5 205.3 L260.3 206.0 L261.1 206.6 L261.9 207.2 L262.6 207.9 L263.4 208.6 L264.1 209.3 L264.9 210.0 L265.6 210.7 L266.3 211.4 L267.1 212.2 L267.8 213.0 L268.5 213.7 L269.2 214.5 L269.8 215.3 L270.5 216.1 L271.2 216.9 L271.9 217.7 L272.5 218.5 L273.2 219.3 L273.8 220.1 L274.5 221.0 L275.1 221.8 L275.7 222.6 L276.4 223.5 L277.0 224.3 L277.6 225.2 L278.2 226.0 L278.8 226.9 L279.4 227.7 L280.0 228.6 L280.6 229.5 L281.2 230.3 L281.8 231.2 L282.4 232.1 L283.0 232.9 L283.6 233.8 L284.2 234.7 L284.8 235.6 L285.3 236.4 L285.9 237.3 L286.5 238.2 L287.1 239.1 L287.6 240.0 L288.2 240.9 L288.8 241.7 L289.4 242.6 L289.9 243.5 L290.5 244.4 L291.1 245.3 L291.7 246.1 L292.3 247.0 L292.8 247.9 L293.4 248.8 L294.0 249.7 L294.6 250.5 L295.2 251.4 L295.8 252.3 L296.4 253.2 L297.0 254.0 L297.6 254.9 L298.2 255.8 L298.8 256.6 L299.4 257.5 L300.0 258.3 L300.6 259.2 L301.3 260.0 L301.9 260.9 L302.5 261.7 L303.2 262.6 L303.8 263.4 L304.5 264.2 L305.1 265.1 L305.8 265.9 L306.4 266.7 L307.1 267.5 L307.8 268.3 L308.5 269.1 L309.2 269.9 L309.9 270.7 L310.6 271.5 L311.3 272.2 L312.0 273.0 L312.8 273.8 L313.5 274.5 L314.3 275.2 L315.0 276.0 L315.8 276.7 L316.6 277.4 L317.4 278.0 L318.2 278.7 L319.1 279.4 L319.9 280.0 L320.8 280.6 L321.6 281.2 L322.5 281.8 L323.4 282.4 L324.3 282.9 L325.2 283.4 L326.2 283.9 L327.1 284.3 L328.1 284.8 L329.1 285.1 L330.0 285.5 L331.0 285.8 L332.1 286.1 L333.1 286.4 L334.1 286.6 L335.2 286.7 L336.2 286.8 L337.3 286.9 L338.3 286.9 L339.4 286.9 L340.4 286.8 L341.5 286.7 L342.5 286.5 L343.5 286.2 L344.5 285.9 L345.5 285.6 L346.5 285.2 L347.5 284.8 L348.4 284.3 L349.3 283.7 L350.2 283.2 L351.1 282.6 L351.9 281.9 L352.7 281.2 L353.5 280.5 L354.3 279.8 L355.0 279.1 L355.7 278.3 L356.4 277.5 L357.1 276.7 L357.7 275.9 L358.4 275.0 L359.0 274.2 L359.6 273.3 L360.2 272.4 L360.8 271.6 L361.3 270.7 L361.9 269.8 L362.4 268.9 L362.9 267.9 L363.4 267.0 L363.9 266.1 L364.4 265.1 L364.9 264.2 L365.3 263.3 L365.8 262.3 L366.2 261.4 L366.7 260.4 L367.1 259.4 L367.5 258.5 L367.9 257.5 L368.3 256.5 L368.7 255.5 L369.1 254.6 L369.5 253.6 L369.9 252.6 L370.3 251.6 L370.6 250.6 L371.0 249.6 L371.4 248.6 L371.7 247.7 L372.1 246.7 L372.4 245.7 L372.7 244.7 L373.1 243.7 L373.4 242.7 L373.7 241.7 L374.1 240.7 L374.4 239.7 L374.7 238.6 L375.0 237.6 L375.3 236.6 L375.6 235.6 L375.9 234.6 L376.2 233.6 L376.5 232.6 L376.8 231.6 L377.1 230.6 L377.4 229.6 L377.6 228.5 L377.9 227.5 L378.2 226.5 L378.5 225.5 L378.8 224.5 L379.0 223.4 L379.3 222.4 L379.6 221.4 L379.8 220.4 L380.1 219.4 L380.3 218.3 L380.6 217.3 L380.9 216.3 L381.1 215.3 L381.4 214.3 L381.6 213.2 L381.9 212.2 L382.1 211.2 L382.4 210.2 L382.6 209.1 L382.9 208.1 L383.1 207.1 L383.3 206.1 L383.6 205.0 L383.8 204.0 L384.1 203.0 L384.3 202.0 L384.5 200.9 L384.8 199.9 L385.0 198.9 L385.2 197.8 L385.5 196.8 L385.7 195.8 L385.9 194.8 L386.2 193.7 L386.4 192.7 L386.6 191.7 L386.9 190.6 L387.1 189.6 L387.3 188.6 L387.5 187.6 L387.8 186.5 L388.0 185.5 L388.2 184.5 L388.4 183.4 L388.7 182.4 L388.9 181.4 L389.1 180.4 L389.3 179.3 L389.6 178.3 L389.8 177.3 L390.0 176.2 L390.2 175.2 L390.4 174.2 L390.7 173.1 L390.9 172.1 L391.1 171.1 L391.3 170.1 L391.6 169.0 L391.8 168.0 L392.0 167.0 L392.3 165.9 L392.5 164.9 L392.7 163.9 L392.9 162.9 L393.2 161.8 L393.4 160.8 L393.6 159.8 L393.9 158.7 L394.1 157.7 L394.4 156.7 L394.6 155.7 L394.8 154.6 L395.1 153.6 L395.3 152.6 L395.6 151.6 L395.8 150.5 L396.1 149.5 L396.4 148.5 L396.6 147.5 L396.9 146.5 L397.2 145.4 L397.4 144.4 L397.7 143.4 L398.0 142.4 L398.3 141.4 L398.6 140.4 L398.9 139.4 L399.2 138.4 L399.5 137.4 L399.9 136.4 L400.2 135.4 L400.5 134.4 L400.9 133.4 L401.3 132.4 L401.6 131.4 L402.0 130.4 L402.4 129.5 L402.9 128.5 L403.3 127.6 L403.7 126.6 L404.2 125.7 L404.7 124.8 L405.2 123.9 L405.7 123.0 L406.3 122.1 L406.8 121.3 L407.4 120.5 L408.0 119.8 L408.6 119.2 L409.2 118.7 L409.7 118.4 L410.0 118.4 L409.9 118.5 L409.8 118.6 L410.0 118.8 L410.3 119.2 L410.8 119.8 L411.2 120.5 L411.6 121.3 L412.0 122.1 L412.5 123.0 L412.9 123.8 L413.3 124.7 L413.7 125.6 L414.1 126.6 L414.5 127.5 L414.9 128.4 L415.3 129.4 L415.7 130.3 L416.0 131.3 L416.4 132.3 L416.8 133.2 L417.1 134.2 L417.5 135.2 L417.8 136.2 L418.1 137.1 L418.5 138.1 L418.8 139.1 L419.1 140.1 L419.4 141.1 L419.7 142.1 L420.0 143.1 L420.3 144.1 L420.6 145.1 L420.9 146.2 L421.2 147.2 L421.5 148.2 L421.8 149.2 L422.0 150.2 L422.3 151.2 L422.6 152.2 L422.8 153.3 L423.1 154.3 L423.3 155.3 L423.6 156.3 L423.8 157.3 L424.1 158.4 L424.3 159.4 L424.6 160.4 L424.8 161.4 L425.0 162.5 L425.3 163.5 L425.5 164.5 L425.8 165.5 L426.0 166.6 L426.3 167.6 L426.5 168.6 L426.8 169.6 L427.0 170.7 L427.3 171.7 L427.5 172.7 L427.8 173.7 L428.0 174.8 L428.3 175.8 L428.5 176.8 L428.8 177.8 L429.0 178.8 L429.3 179.9 L429.6 180.9 L429.8 181.9 L430.1 182.9 L430.4 184.0 L430.6 185.0 L430.9 186.0 L431.2 187.0 L431.4 188.0 L431.7 189.1 L432.0 190.1 L432.2 191.1 L432.5 192.1 L432.8 193.1 L433.0 194.2 L433.3 195.2 L433.6 196.2 L433.9 197.2 L434.1 198.2 L434.4 199.3 L434.7 200.3 L435.0 201.3 L435.3 202.3 L435.6 203.3 L435.9 204.4 L436.2 205.4 L436.4 206.4 L436.7 207.4 L437.0 208.4 L437.3 209.4 L437.6 210.4 L438.0 211.5 L438.3 212.5 L438.6 213.5 L438.9 214.5 L439.2 215.5 L439.5 216.5 L439.9 217.5 L440.2 218.5 L440.5 219.5 L440.9 220.5 L441.2 221.5 L441.6 222.5 L441.9 223.5 L442.3 224.5 L442.7 225.5 L443.1 226.5 L443.5 227.5 L443.9 228.5 L444.3 229.5 L444.7 230.4 L445.1 231.4 L445.5 232.4 L446.0 233.4 L446.4 234.3 L446.9 235.3 L447.4 236.2 L447.8 237.2 L448.3 238.1 L448.9 239.1 L449.4 240.0 L450.0 240.9 L450.6 241.8 L451.2 242.7 L451.8 243.6 L452.5 244.5 L453.2 245.3 L453.9 246.1 L454.7 246.9 L455.5 247.6 L456.4 248.3 L457.3 248.9 L458.3 249.5 L459.4 249.9 L460.5 250.3 L461.6 250.5 L462.8 250.6 L463.9 250.5 L465.0 250.4 L466.1 250.1 L467.2 249.7 L468.2 249.3 L469.2 248.7 L470.1 248.2 L471.0 247.6 L471.9 246.9 L472.8 246.3 L473.6 245.6 L474.4 244.9 L475.2 244.1 L475.9 243.4 L476.7 242.6 L477.4 241.8 L478.1 241.1 L478.8 240.3 L479.6 239.5 L480.3 238.7 L480.9 237.9 L481.6 237.1 L482.3 236.3 L483.0 235.4 L483.6 234.6 L484.3 233.8 L485.0 233.0 L485.6 232.2 L486.3 231.3 L486.9 230.5 L487.6 229.7 L488.3 228.9 L488.9 228.0 L489.6 227.2 L490.3 226.4 L490.9 225.6 L491.6 224.8 L492.3 224.0 L492.9 223.2 L493.6 222.4 L494.3 221.6 L495.0 220.8 L495.7 220.0 L496.4 219.2 L497.1 218.4 L497.8 217.7 L498.5 216.9 L499.3 216.2 L500.0 215.4 L500.7 214.7 L501.5 214.0 L502.2 213.3 L503.0 212.6 L503.8 211.9 L504.6 211.2 L505.4 210.6 L506.2 209.9 L507.0 209.3 L507.8 208.7 L508.7 208.2 L509.5 207.6 L510.4 207.1 L511.2 206.6 L512.1 206.2 L513.0 205.7 L513.9 205.4 L514.8 205.0 L515.8 204.7 L516.7 204.5 L517.6 204.3 L518.5 204.2 L519.5 204.1 L520.4 204.0 L521.3 204.0 L522.3 204.1 L523.2 204.2 L524.1 204.4 L525.0 204.6 L525.9 204.9 L526.8 205.2 L527.7 205.6 L528.6 206.0 L529.5 206.4 L530.3 206.9 L531.2 207.4 L532.0 208.0 L532.8 208.6 L533.6 209.2 L534.4 209.8 L535.2 210.5 L535.9 211.2 L536.6 211.9 L537.4 212.6 L538.1 213.3 L538.8 214.0 L539.5 214.8 L540.2 215.6 L540.9 216.3 L541.6 217.1 L542.3 217.9 L542.9 218.7 L543.6 219.4 L544.3 220.2 L544.9 221.0 L545.6 221.8 L546.3 222.7 L546.9 223.5 L547.6 224.3 L548.2 225.1 L548.8 225.9 L549.5 226.8 L550.1 227.6 L550.7 228.5 L551.3 229.3 L551.9 230.2 L552.5 231.0 L553.1 231.9 L553.7 232.8 L554.3 233.6 L554.9 234.5 L555.5 235.4 L556.0 236.3 L556.6 237.1 L557.2 238.0 L557.7 238.9 L558.3 239.8 L558.9 240.7 L559.4 241.6 L560.0 242.5 L560.5 243.4 L561.1 244.3 L561.7 245.2 L562.2 246.0 L562.8 246.9 L563.3 247.8 L563.9 248.7 L564.5 249.6 L565.0 250.5 L565.6 251.4 L566.2 252.3 L566.7 253.2 L567.3 254.1 L567.8 255.0 L568.4 255.9 L569.0 256.7 L569.5 257.6 L570.1 258.5 L570.7 259.4 L571.2 260.3 L571.8 261.2 L572.4 262.1 L572.9 263.0 L573.5 263.9 L574.1 264.8 L574.7 265.6 L575.2 266.5 L575.8 267.4 L576.4 268.3 L577.0 269.2 L577.6 270.1 L578.1 270.9 L578.7 271.8 L579.3 272.7 L579.9 273.6 L580.5 274.5 L581.1 275.3 L581.7 276.2 L582.3 277.0 L583.0 277.9 L583.6 278.8 L584.2 279.6 L584.9 280.5 L585.5 281.3 L586.1 282.1 L586.8 283.0 L587.5 283.8 L588.1 284.6 L588.8 285.5 L589.5 286.3 L590.2 287.1 L590.9 287.9 L591.6 288.7 L592.3 289.5 L593.0 290.3 L593.7 291.1 L594.4 291.8 L595.1 292.6 L595.8 293.4 L596.6 294.2 L597.3 294.9 L598.0 295.7 L598.8 296.5 L599.5 297.2 L600.3 298.0 L601.0 298.7 L601.8 299.5 L602.5 300.2 L603.3 301.0 L604.1 301.7 L604.8 302.4 L605.6 303.1 L606.4 303.9 L607.2 304.6 L608.0 305.3 L608.8 306.0 L609.6 306.7 L610.4 307.3 L611.2 308.0 L612.1 308.7 L612.9 309.3 L613.8 310.0 L614.6 310.6 L615.5 311.2 L616.4 311.8 L617.2 312.4 L618.1 313.0 L619.0 313.6 L619.9 314.2 L620.8 314.7 L621.7 315.3 L622.7 315.8 L623.6 316.3 L624.5 316.8 L625.5 317.3 L626.4 317.8 L627.3 318.3 L628.3 318.8 L629.2 319.3 L630.2 319.8 L631.1 320.2 L632.1 320.7 L633.1 321.1 L634.0 321.6 L635.0 322.0 L636.0 322.4 L636.9 322.8 L637.9 323.3 L638.9 323.7 L639.9 324.1 L640.8 324.5 L641.8 324.9 L642.8 325.3 L643.8 325.6 L644.8 326.0 L645.8 326.4 L646.8 326.8 L647.7 327.2 L648.7 327.5 L649.7 327.9 L650.7 328.3 L651.7 328.6 L652.7 329.0 L653.7 329.3 L654.2 329.5" stroke="#2828c8" stroke-width="1.9"/>
<path d="M252.1 196.8 L253.2 197.1 L254.3 197.5 L255.3 198.0 L256.4 198.5 L257.4 199.0 L258.3 199.6 L259.3 200.2 L260.2 200.9 L261.1 201.6 L261.9 202.3 L262.8 203.0 L263.6 203.7 L264.4 204.5 L265.1 205.3 L265.9 206.1 L266.6 206.9 L267.3 207.7 L268.0 208.5 L268.7 209.3 L269.4 210.2 L270.0 211.0 L270.7 211.9 L271.3 212.7 L271.9 213.6 L272.6 214.5 L273.2 215.4 L273.8 216.2 L274.4 217.1 L275.0 218.0 L275.5 218.9 L276.1 219.8 L276.7 220.7 L277.3 221.6 L277.8 222.4 L278.4 223.3 L279.0 224.2 L279.5 225.1 L280.1 226.0 L280.6 226.9 L281.2 227.8 L281.7 228.7 L282.3 229.6 L282.8 230.5 L283.4 231.4 L283.9 232.3 L284.5 233.2 L285.0 234.1 L285.6 235.0 L286.1 235.9 L286.7 236.8 L287.2 237.7 L287.8 238.6 L288.3 239.5 L288.9 240.4 L289.4 241.3 L290.0 242.2 L290.5 243.1 L291.1 244.0 L291.6 244.9 L292.2 245.8 L292.8 246.7 L293.3 247.6 L293.9 248.5 L294.4 249.4 L295.0 250.3 L295.6 251.2 L296.1 252.0 L296.7 252.9 L297.3 253.8 L297.9 254.7 L298.5 255.6 L299.0 256.4 L299.6 257.3 L300.2 258.2 L300.8 259.0 L301.4 259.9 L302.0 260.8 L302.7 261.6 L303.3 262.5 L303.9 263.3 L304.5 264.2 L305.2 265.0 L305.8 265.8 L306.5 266.6 L307.2 267.5 L307.8 268.3 L308.5 269.1 L309.2 269.9 L309.9 270.7 L310.6 271.5 L311.3 272.2 L312.0 273.0 L312.8 273.7 L313.5 274.5 L314.3 275.2 L315.0 275.9 L315.8 276.7 L316.6 277.4 L317.4 278.0 L318.2 278.7 L319.1 279.4 L319.9 280.0 L320.8 280.6 L321.6 281.2 L322.5 281.8 L323.4 282.4 L324.3 282.9 L325.2 283.4 L326.2 283.9 L327.1 284.3 L328.1 284.8 L329.1 285.1 L330.0 285.5 L331.0 285.8 L332.1 286.1 L333.1 286.4 L334.1 286.6 L335.2 286.7 L336.2 286.8 L337.3 286.9 L338.3 286.9 L339.4 286.9 L340.4 286.8 L341.5 286.7 L342.5 286.5 L343.5 286.2 L344.5 285.9 L345.5 285.6 L346.5 285.2 L347.5 284.8 L348.4 284.3 L349.3 283.7 L350.2 283.2 L351.1 282.6 L351.9 281.9 L352.7 281.2 L353.5 280.5 L354.3 279.8 L355.0 279.1 L355.7 278.3 L356.4 277.5 L357.1 276.7 L357.7 275.9 L358.4 275.0 L359.0 274.2 L359.6 273.3 L360.2 272.4 L360.8 271.6 L361.3 270.7 L361.9 269.8 L362.4 268.9 L362.9 267.9 L363.4 267.0 L363.9 266.1 L364.4 265.1 L364.9 264.2 L365.3 263.3 L365.8 262.3 L366.2 261.4 L366.7 260.4 L367.1 259.4 L367.5 258.5 L367.9 257.5 L368.3 256.5 L368.7 255.5 L369.1 254.6 L369.5 253.6 L369.9 252.6 L370.3 251.6 L370.6 250.6 L371.0 249.6 L371.4 248.6 L371.7 247.7 L372.1 246.7 L372.4 245.7 L372.7 244.7 L373.1 243.7 L373.4 242.7 L373.7 241.7 L374.1 240.7 L374.4 239.7 L374.7 238.6 L375.0 237.6 L375.3 236.6 L375.6 235.6 L375.9 234.6 L376.2 233.6 L376.5 232.6 L376.8 231.6 L377.1 230.6 L377.4 229.6 L377.6 228.5 L377.9 227.5 L378.2 226.5 L378.5 225.5 L378.8 224.5 L379.0 223.4 L379.3 222.4 L379.6 221.4 L379.8 220.4 L380.1 219.4 L380.3 218.3 L380.6 217.3 L380.9 216.3 L381.1 215.3 L381.4 214.3 L381.6 213.2 L381.9 212.2 L382.1 211.2 L382.4 210.2 L382.6 209.1 L382.9 208.1 L383.1 207.1 L383.3 206.1 L383.6 205.0 L383.8 204.0 L384.1 203.0 L384.3 202.0 L384.5 200.9 L384.8 199.9 L385.0 198.9 L385.2 197.8 L385.5 196.8 L385.7 195.8 L385.9 194.8 L386.2 193.7 L386.4 192.7 L386.6 191.7 L386.9 190.6 L387.1 189.6 L387.3 188.6 L387.5 187.6 L387.8 186.5 L388.0 185.5 L388.2 184.5 L388.4 183.4 L388.7 182.4 L388.9 181.4 L389.1 180.4 L389.3 179.3 L389.6 178.3 L389.8 177.3 L390.0 176.2 L390.2 175.2 L390.4 174.2 L390.7 173.1 L390.9 172.1 L391.1 171.1 L391.3 170.1 L391.6 169.0 L391.8 168.0 L392.0 167.0 L392.2 165.9 L392.5 164.9 L392.7 163.9 L392.9 162.9 L393.2 161.8 L393.4 160.8 L393.6 159.8 L393.9 158.7 L394.1 157.7 L394.3 156.7 L394.6 155.7 L394.8 154.6 L395.0 153.6 L395.3 152.6 L395.5 151.6 L395.8 150.5 L396.0 149.5 L396.3 148.5 L396.5 147.5 L396.8 146.4 L397.0 145.4 L397.3 144.4 L397.6 143.4 L397.8 142.4 L398.1 141.3 L398.4 140.3 L398.7 139.3 L399.0 138.3 L399.3 137.3 L399.6 136.3 L399.9 135.3 L400.2 134.3 L400.5 133.3 L400.9 132.3 L401.2 131.3 L401.6 130.3 L401.9 129.3 L402.3 128.3 L402.7 127.4 L403.1 126.4 L403.5 125.4 L404.0 124.5 L404.4 123.5 L404.9 122.6 L405.4 121.7 L405.9 120.8 L406.4 120.0 L407.0 119.2 L407.6 118.5 L408.3 117.8 L408.9 117.3 L409.5 117.1 L410.0 117.0 L410.4 117.2 L410.9 117.6 L411.5 118.2 L412.0 118.9 L412.5 119.7 L413.0 120.5 L413.5 121.4 L413.9 122.3 L414.3 123.2 L414.7 124.1 L415.1 125.1 L415.5 126.0 L415.9 127.0 L416.3 127.9 L416.6 128.9 L417.0 129.9 L417.3 130.9 L417.7 131.9 L418.0 132.8 L418.3 133.8 L418.7 134.8 L419.0 135.8 L419.3 136.8 L419.6 137.8 L419.9 138.8 L420.2 139.8 L420.5 140.8 L420.8 141.9 L421.0 142.9 L421.3 143.9 L421.6 144.9 L421.9 145.9 L422.1 146.9 L422.4 147.9 L422.7 149.0 L422.9 150.0 L423.2 151.0 L423.4 152.0 L423.7 153.0 L423.9 154.1 L424.2 155.1 L424.4 156.1 L424.7 157.1 L424.9 158.2 L425.1 159.2 L425.4 160.2 L425.6 161.2 L425.9 162.3 L426.1 163.3 L426.3 164.3 L426.6 165.4 L426.8 166.4 L427.0 167.4 L427.3 168.4 L427.5 169.5 L427.8 170.5 L428.0 171.5 L428.2 172.5 L428.5 173.6 L428.7 174.6 L428.9 175.6 L429.2 176.6 L429.4 177.7 L429.7 178.7 L429.9 179.7 L430.2 180.7 L430.4 181.8 L430.7 182.8 L430.9 183.8 L431.1 184.9 L431.4 185.9 L431.6 186.9 L431.9 187.9 L432.1 189.0 L432.4 190.0 L432.6 191.0 L432.9 192.0 L433.2 193.1 L433.4 194.1 L433.7 195.1 L433.9 196.1 L434.2 197.1 L434.4 198.2 L434.7 199.2 L435.0 200.2 L435.2 201.2 L435.5 202.3 L435.8 203.3 L436.1 204.3 L436.3 205.3 L436.6 206.3 L436.9 207.4 L437.2 208.4 L437.5 209.4 L437.7 210.4 L438.0 211.4 L438.3 212.4 L438.6 213.5 L438.9 214.5 L439.2 215.5 L439.5 216.5 L439.9 217.5 L440.2 218.5 L440.5 219.5 L440.8 220.5 L441.2 221.6 L441.5 222.6 L441.8 223.6 L442.2 224.6 L442.5 225.6 L442.9 226.6 L443.3 227.6 L443.6 228.6 L444.0 229.5 L444.4 230.5 L444.8 231.5 L445.3 232.5 L445.7 233.5 L446.1 234.5 L446.6 235.4 L447.0 236.4 L447.5 237.4 L448.0 238.3 L448.5 239.3 L449.1 240.2 L449.6 241.1 L450.2 242.1 L450.8 243.0 L451.4 243.9 L452.1 244.8 L452.8 245.6 L453.5 246.5 L454.3 247.3 L455.2 248.0 L456.1 248.7 L457.0 249.4 L458.1 250.0 L459.2 250.5 L460.3 250.8 L461.5 251.0 L462.7 251.1 L464.0 251.1 L465.1 250.9 L466.3 250.6 L467.4 250.2 L468.4 249.7 L469.4 249.2 L470.4 248.6 L471.3 248.0 L472.2 247.3 L473.1 246.7 L473.9 246.0 L474.7 245.2 L475.5 244.5 L476.3 243.7 L477.0 243.0 L477.8 242.2 L478.5 241.4 L479.2 240.6 L479.9 239.8 L480.6 239.0 L481.3 238.2 L482.0 237.4 L482.7 236.6 L483.3 235.7 L484.0 234.9 L484.7 234.1 L485.3 233.3 L486.0 232.5 L486.7 231.6 L487.3 230.8 L488.0 230.0 L488.7 229.2 L489.3 228.4 L490.0 227.6 L490.7 226.7 L491.4 225.9 L492.0 225.1 L492.7 224.3 L493.4 223.6 L494.1 222.8 L494.8 222.0 L495.5 221.2 L496.2 220.5 L497.0 219.7 L497.7 219.0 L498.4 218.2 L499.2 217.5 L499.9 216.8 L500.7 216.0 L501.4 215.3 L502.2 214.7 L503.0 214.0 L503.7 213.3 L504.5 212.7 L505.3 212.1 L506.1 211.5 L507.0 210.9 L507.8 210.3 L508.6 209.8 L509.5 209.3 L510.3 208.8 L511.1 208.3 L512.0 207.9 L512.9 207.5 L513.7 207.2 L514.6 206.9 L515.4 206.6 L516.3 206.4 L517.1 206.2 L518.0 206.0 L518.8 205.9 L519.6 205.9 L520.4 205.9 L521.3 205.9 L522.1 206.0 L522.9 206.1 L523.7 206.2 L524.5 206.4 L525.3 206.6 L526.2 206.9 L527.0 207.2 L527.8 207.6 L528.6 208.0 L529.4 208.5 L530.2 209.0 L531.0 209.5 L531.7 210.0 L532.5 210.6 L533.2 211.2 L533.9 211.9 L534.7 212.5 L535.4 213.2 L536.1 213.9 L536.8 214.6 L537.5 215.3 L538.1 216.1 L538.8 216.8 L539.5 217.5 L540.2 218.3 L540.9 219.0 L541.6 219.8 L542.2 220.5 L542.9 221.3 L543.6 222.1 L544.3 222.9 L545.0 223.6 L545.6 224.4 L546.3 225.2 L547.0 226.0 L547.6 226.8 L548.3 227.6 L548.9 228.4 L549.6 229.3 L550.2 230.1 L550.8 230.9 L551.4 231.8 L552.0 232.6 L552.6 233.5 L553.2 234.3 L553.8 235.2 L554.4 236.1 L555.0 236.9 L555.6 237.8 L556.1 238.7 L556.7 239.6 L557.3 240.5 L557.8 241.3 L558.4 242.2 L559.0 243.1 L559.5 244.0 L560.1 244.9 L560.7 245.8 L561.2 246.7 L561.8 247.5 L562.4 248.4 L563.0 249.3 L563.5 250.2 L564.1 251.1 L564.7 252.0 L565.3 252.8 L565.8 253.7 L566.4 254.6 L567.0 255.5 L567.6 256.4 L568.1 257.3 L568.7 258.2 L569.3 259.0 L569.9 259.9 L570.5 260.8 L571.0 261.7 L571.6 262.6 L572.2 263.5 L572.8 264.4 L573.3 265.2 L573.9 266.1 L574.5 267.0 L575.1 267.9 L575.7 268.8 L576.3 269.7 L576.8 270.5 L577.4 271.4 L578.0 272.3 L578.6 273.2 L579.2 274.1 L579.8 274.9 L580.5 275.8 L581.1 276.7 L581.7 277.5 L582.3 278.4 L583.0 279.2 L583.6 280.1 L584.3 280.9 L584.9 281.7 L585.6 282.6 L586.3 283.4 L586.9 284.2 L587.6 285.0 L588.3 285.8 L589.0 286.7 L589.7 287.5 L590.4 288.2 L591.1 289.0 L591.8 289.8 L592.6 290.6 L593.3 291.4 L594.0 292.2 L594.8 292.9 L595.5 293.7 L596.2 294.5 L597.0 295.2 L597.7 296.0 L598.5 296.7 L599.2 297.5 L600.0 298.3 L600.7 299.0 L601.5 299.8 L602.2 300.5 L603.0 301.3 L603.8 302.0 L604.5 302.7 L605.3 303.5 L606.1 304.2 L606.9 304.9 L607.7 305.6 L608.5 306.3 L609.3 307.0 L610.1 307.7 L610.9 308.4 L611.8 309.1 L612.6 309.7 L613.5 310.4 L614.3 311.0 L615.2 311.6 L616.1 312.2 L617.0 312.8 L617.9 313.4 L618.8 314.0 L619.7 314.6 L620.6 315.1 L621.5 315.7 L622.4 316.2 L623.3 316.7 L624.3 317.3 L625.2 317.8 L626.2 318.3 L627.1 318.7 L628.1 319.2 L629.0 319.7 L630.0 320.1 L631.0 320.6 L631.9 321.0 L632.9 321.5 L633.9 321.9 L634.8 322.3 L635.8 322.8 L636.8 323.2 L637.8 323.6 L638.7 324.0 L639.7 324.4 L640.7 324.8 L641.7 325.2 L642.7 325.5 L643.7 325.9 L644.7 326.3 L645.7 326.7 L646.6 327.1 L647.6 327.4 L648.6 327.8 L649.6 328.1 L650.6 328.5 L651.6 328.9 L652.6 329.2 L653.6 329.6 L654.1 329.8" stroke="#8a10f0" stroke-width="2.6"/>
<path d="M251.5 198.9 L252.5 199.2 L253.5 199.6 L254.5 200.0 L255.4 200.4 L256.3 200.9 L257.2 201.5 L258.1 202.0 L259.0 202.6 L259.8 203.2 L260.7 203.9 L261.5 204.6 L262.3 205.2 L263.0 206.0 L263.8 206.7 L264.5 207.4 L265.3 208.2 L266.0 208.9 L266.7 209.7 L267.4 210.5 L268.1 211.3 L268.7 212.1 L269.4 212.9 L270.1 213.8 L270.7 214.6 L271.4 215.4 L272.0 216.3 L272.6 217.1 L273.2 217.9 L273.9 218.8 L274.5 219.7 L275.1 220.5 L275.7 221.4 L276.3 222.2 L276.9 223.1 L277.4 224.0 L278.0 224.9 L278.6 225.7 L279.2 226.6 L279.8 227.5 L280.3 228.4 L280.9 229.3 L281.5 230.2 L282.0 231.0 L282.6 231.9 L283.2 232.8 L283.7 233.7 L284.3 234.6 L284.8 235.5 L285.4 236.4 L286.0 237.3 L286.5 238.2 L287.1 239.1 L287.6 240.0 L288.2 240.9 L288.7 241.8 L289.3 242.7 L289.8 243.6 L290.4 244.5 L290.9 245.4 L291.4 246.3 L292.0 247.2 L292.5 248.1 L293.1 249.0 L293.6 249.9 L294.2 250.8 L294.8 251.7 L295.3 252.6 L295.9 253.5 L296.5 254.4 L297.0 255.3 L297.6 256.1 L298.2 257.0 L298.8 257.9 L299.4 258.8 L300.0 259.6 L300.6 260.5 L301.2 261.4 L301.9 262.2 L302.5 263.1 L303.1 263.9 L303.8 264.8 L304.4 265.6 L305.1 266.4 L305.8 267.2 L306.5 268.0 L307.2 268.8 L307.9 269.6 L308.6 270.4 L309.3 271.2 L310.0 272.0 L310.8 272.8 L311.5 273.5 L312.2 274.3 L313.0 275.0 L313.8 275.8 L314.6 276.5 L315.4 277.2 L316.2 277.9 L317.0 278.6 L317.8 279.2 L318.6 279.9 L319.5 280.5 L320.4 281.2 L321.2 281.8 L322.1 282.4 L323.0 282.9 L324.0 283.5 L324.9 284.0 L325.9 284.5 L326.8 284.9 L327.8 285.4 L328.8 285.8 L329.8 286.1 L330.9 286.5 L331.9 286.7 L333.0 287.0 L334.0 287.2 L335.1 287.3 L336.2 287.5 L337.2 287.5 L338.3 287.5 L339.4 287.5 L340.5 287.4 L341.6 287.2 L342.6 287.0 L343.7 286.8 L344.7 286.5 L345.7 286.1 L346.7 285.7 L347.7 285.2 L348.7 284.7 L349.6 284.2 L350.5 283.6 L351.4 283.0 L352.2 282.3 L353.0 281.6 L353.8 280.9 L354.6 280.2 L355.4 279.4 L356.1 278.6 L356.8 277.8 L357.5 277.0 L358.1 276.2 L358.8 275.3 L359.4 274.5 L360.0 273.6 L360.6 272.7 L361.2 271.8 L361.7 270.9 L362.3 270.0 L362.8 269.1 L363.3 268.2 L363.8 267.2 L364.3 266.3 L364.8 265.3 L365.3 264.4 L365.7 263.4 L366.2 262.5 L366.6 261.5 L367.0 260.6 L367.5 259.6 L367.9 258.6 L368.3 257.6 L368.7 256.7 L369.1 255.7 L369.5 254.7 L369.9 253.7 L370.2 252.7 L370.6 251.7 L371.0 250.8 L371.3 249.8 L371.7 248.8 L372.0 247.8 L372.4 246.8 L372.7 245.8 L373.0 244.8 L373.4 243.8 L373.7 242.8 L374.0 241.8 L374.3 240.7 L374.6 239.7 L375.0 238.7 L375.3 237.7 L375.6 236.7 L375.9 235.7 L376.2 234.7 L376.4 233.7 L376.7 232.7 L377.0 231.6 L377.3 230.6 L377.6 229.6 L377.9 228.6 L378.1 227.6 L378.4 226.6 L378.7 225.5 L379.0 224.5 L379.2 223.5 L379.5 222.5 L379.8 221.5 L380.0 220.4 L380.3 219.4 L380.5 218.4 L380.8 217.4 L381.0 216.3 L381.3 215.3 L381.5 214.3 L381.8 213.3 L382.0 212.3 L382.3 211.2 L382.5 210.2 L382.8 209.2 L383.0 208.1 L383.2 207.1 L383.5 206.1 L383.7 205.1 L384.0 204.0 L384.2 203.0 L384.4 202.0 L384.7 201.0 L384.9 199.9 L385.1 198.9 L385.3 197.9 L385.6 196.8 L385.8 195.8 L386.0 194.8 L386.3 193.8 L386.5 192.7 L386.7 191.7 L386.9 190.7 L387.2 189.6 L387.4 188.6 L387.6 187.6 L387.8 186.5 L388.1 185.5 L388.3 184.5 L388.5 183.5 L388.7 182.4 L388.9 181.4 L389.2 180.4 L389.4 179.3 L389.6 178.3 L389.8 177.3 L390.0 176.2 L390.3 175.2 L390.5 174.2 L390.7 173.2 L390.9 172.1 L391.1 171.1 L391.4 170.1 L391.6 169.0 L391.8 168.0 L392.0 167.0 L392.2 165.9 L392.5 164.9 L392.7 163.9 L392.9 162.8 L393.1 161.8 L393.3 160.8 L393.6 159.8 L393.8 158.7 L394.0 157.7 L394.2 156.7 L394.4 155.6 L394.7 154.6 L394.9 153.6 L395.1 152.5 L395.3 151.5 L395.6 150.5 L395.8 149.5 L396.0 148.4 L396.2 147.4 L396.5 146.4 L396.7 145.3 L396.9 144.3 L397.2 143.3 L397.4 142.2 L397.6 141.2 L397.8 140.2 L398.1 139.1 L398.3 138.1 L398.5 137.1 L398.8 136.1 L399.0 135.0 L399.2 134.0 L399.5 133.0 L399.7 131.9 L399.9 130.9 L400.2 129.9 L400.4 128.8 L400.7 127.8 L400.9 126.7 L401.2 125.7 L401.5 124.7 L401.8 123.6 L402.1 122.6 L402.4 121.5 L402.8 120.5 L403.2 119.4 L403.6 118.4 L404.1 117.3 L404.8 116.2 L405.5 115.1 L406.6 114.1 L408.1 113.2 L410.2 112.8 L412.2 113.2 L413.7 114.1 L414.8 115.1 L415.7 116.2 L416.4 117.2 L417.0 118.2 L417.6 119.3 L418.0 120.3 L418.5 121.3 L418.9 122.4 L419.2 123.4 L419.6 124.5 L419.9 125.5 L420.2 126.6 L420.5 127.6 L420.7 128.6 L421.0 129.7 L421.3 130.7 L421.5 131.8 L421.8 132.8 L422.0 133.9 L422.2 134.9 L422.5 135.9 L422.7 137.0 L422.9 138.0 L423.1 139.0 L423.4 140.1 L423.6 141.1 L423.8 142.2 L424.0 143.2 L424.3 144.2 L424.5 145.3 L424.7 146.3 L424.9 147.3 L425.1 148.4 L425.4 149.4 L425.6 150.4 L425.8 151.5 L426.0 152.5 L426.2 153.5 L426.5 154.6 L426.7 155.6 L426.9 156.6 L427.1 157.6 L427.4 158.7 L427.6 159.7 L427.8 160.7 L428.0 161.8 L428.3 162.8 L428.5 163.8 L428.7 164.9 L428.9 165.9 L429.2 166.9 L429.4 167.9 L429.6 169.0 L429.8 170.0 L430.1 171.0 L430.3 172.1 L430.5 173.1 L430.8 174.1 L431.0 175.1 L431.2 176.2 L431.5 177.2 L431.7 178.2 L431.9 179.3 L432.2 180.3 L432.4 181.3 L432.6 182.3 L432.9 183.4 L433.1 184.4 L433.4 185.4 L433.6 186.4 L433.8 187.5 L434.1 188.5 L434.3 189.5 L434.6 190.5 L434.9 191.5 L435.1 192.6 L435.4 193.6 L435.6 194.6 L435.9 195.6 L436.2 196.6 L436.4 197.7 L436.7 198.7 L437.0 199.7 L437.2 200.7 L437.5 201.7 L437.8 202.7 L438.1 203.8 L438.3 204.8 L438.6 205.8 L438.9 206.8 L439.2 207.8 L439.5 208.8 L439.8 209.8 L440.1 210.8 L440.4 211.8 L440.7 212.8 L441.0 213.8 L441.4 214.8 L441.7 215.8 L442.0 216.8 L442.3 217.8 L442.7 218.8 L443.0 219.8 L443.4 220.8 L443.7 221.8 L444.1 222.8 L444.4 223.8 L444.8 224.7 L445.2 225.7 L445.6 226.7 L445.9 227.7 L446.3 228.6 L446.7 229.6 L447.2 230.5 L447.6 231.5 L448.0 232.4 L448.5 233.4 L448.9 234.3 L449.4 235.2 L449.9 236.1 L450.4 237.1 L450.9 238.0 L451.4 238.8 L451.9 239.7 L452.5 240.6 L453.1 241.4 L453.7 242.2 L454.3 243.0 L454.9 243.8 L455.6 244.5 L456.3 245.2 L457.0 245.8 L457.8 246.4 L458.6 246.9 L459.4 247.4 L460.2 247.7 L461.1 248.0 L461.9 248.2 L462.8 248.3 L463.7 248.2 L464.6 248.1 L465.5 247.9 L466.4 247.6 L467.3 247.3 L468.1 246.8 L469.0 246.4 L469.8 245.8 L470.7 245.3 L471.5 244.7 L472.3 244.0 L473.1 243.4 L473.8 242.7 L474.6 242.0 L475.3 241.3 L476.0 240.5 L476.8 239.8 L477.5 239.0 L478.2 238.3 L478.9 237.5 L479.6 236.7 L480.2 235.9 L480.9 235.1 L481.6 234.3 L482.2 233.5 L482.9 232.7 L483.5 231.8 L484.2 231.0 L484.8 230.2 L485.5 229.4 L486.1 228.5 L486.8 227.7 L487.4 226.8 L488.0 226.0 L488.7 225.2 L489.3 224.3 L489.9 223.5 L490.6 222.6 L491.2 221.8 L491.8 220.9 L492.5 220.1 L493.1 219.2 L493.7 218.4 L494.4 217.5 L495.0 216.7 L495.7 215.8 L496.4 215.0 L497.0 214.1 L497.7 213.3 L498.4 212.5 L499.1 211.6 L499.8 210.8 L500.5 210.0 L501.2 209.2 L502.0 208.4 L502.8 207.6 L503.6 206.8 L504.4 206.0 L505.2 205.3 L506.1 204.5 L506.9 203.8 L507.9 203.1 L508.8 202.4 L509.8 201.8 L510.8 201.2 L511.9 200.6 L513.0 200.1 L514.1 199.6 L515.3 199.2 L516.5 198.9 L517.7 198.6 L519.0 198.4 L520.3 198.3 L521.5 198.3 L522.8 198.4 L524.1 198.6 L525.3 198.9 L526.6 199.2 L527.7 199.6 L528.9 200.1 L530.0 200.6 L531.1 201.1 L532.1 201.7 L533.1 202.3 L534.1 203.0 L535.1 203.7 L536.0 204.4 L536.9 205.1 L537.8 205.8 L538.6 206.5 L539.5 207.3 L540.3 208.1 L541.1 208.8 L541.9 209.6 L542.6 210.4 L543.4 211.3 L544.1 212.1 L544.8 212.9 L545.5 213.8 L546.1 214.6 L546.8 215.5 L547.4 216.4 L548.0 217.3 L548.7 218.2 L549.3 219.1 L549.8 220.0 L550.4 220.9 L551.0 221.8 L551.6 222.7 L552.1 223.6 L552.7 224.5 L553.2 225.4 L553.8 226.3 L554.3 227.3 L554.9 228.2 L555.5 229.1 L556.0 230.0 L556.6 230.9 L557.1 231.8 L557.7 232.7 L558.2 233.6 L558.8 234.5 L559.3 235.4 L559.9 236.3 L560.4 237.2 L561.0 238.1 L561.5 239.0 L562.1 239.9 L562.6 240.8 L563.1 241.7 L563.7 242.7 L564.2 243.6 L564.7 244.5 L565.3 245.4 L565.8 246.3 L566.3 247.2 L566.8 248.1 L567.3 249.1 L567.9 250.0 L568.4 250.9 L568.9 251.8 L569.4 252.7 L569.9 253.6 L570.5 254.6 L571.0 255.5 L571.5 256.4 L572.0 257.3 L572.6 258.2 L573.1 259.1 L573.6 260.0 L574.2 260.9 L574.7 261.8 L575.3 262.7 L575.8 263.6 L576.3 264.5 L576.9 265.4 L577.4 266.3 L578.0 267.2 L578.5 268.1 L579.1 269.0 L579.7 269.9 L580.2 270.8 L580.8 271.7 L581.4 272.6 L581.9 273.5 L582.5 274.3 L583.1 275.2 L583.7 276.1 L584.2 277.0 L584.8 277.9 L585.4 278.7 L586.0 279.6 L586.6 280.5 L587.2 281.3 L587.8 282.2 L588.5 283.0 L589.1 283.9 L589.7 284.7 L590.3 285.6 L591.0 286.4 L591.6 287.2 L592.3 288.1 L593.0 288.9 L593.6 289.7 L594.3 290.5 L595.0 291.3 L595.7 292.1 L596.4 292.9 L597.1 293.7 L597.8 294.5 L598.5 295.3 L599.2 296.0 L600.0 296.8 L600.7 297.5 L601.4 298.3 L602.2 299.0 L602.9 299.8 L603.7 300.5 L604.5 301.2 L605.2 302.0 L606.0 302.7 L606.8 303.4 L607.6 304.1 L608.4 304.8 L609.2 305.5 L610.0 306.2 L610.8 306.8 L611.6 307.5 L612.5 308.1 L613.3 308.8 L614.2 309.4 L615.0 310.0 L615.9 310.6 L616.8 311.3 L617.6 311.9 L618.5 312.4 L619.4 313.0 L620.3 313.6 L621.2 314.1 L622.1 314.7 L623.0 315.2 L623.9 315.8 L624.8 316.3 L625.8 316.8 L626.7 317.3 L627.6 317.8 L628.6 318.3 L629.5 318.8 L630.4 319.3 L631.4 319.7 L632.3 320.2 L633.3 320.6 L634.2 321.1 L635.2 321.5 L636.2 322.0 L637.1 322.4 L638.1 322.8 L639.1 323.2 L640.0 323.7 L641.0 324.1 L642.0 324.5 L643.0 324.9 L643.9 325.3 L644.9 325.7 L645.9 326.0 L646.9 326.4 L647.9 326.8 L648.9 327.2 L649.9 327.5 L650.8 327.9 L651.8 328.3 L652.8 328.6 L653.8 329.0 L654.3 329.2" stroke="#18c838" stroke-width="2.6"/>
<path d="M252.7 194.7 L253.8 195.1 L255.0 195.5 L256.2 196.0 L257.3 196.6 L258.4 197.2 L259.4 197.9 L260.4 198.5 L261.3 199.3 L262.2 200.0 L263.1 200.8 L264.0 201.5 L264.8 202.4 L265.6 203.2 L266.4 204.0 L267.1 204.8 L267.8 205.7 L268.5 206.6 L269.2 207.4 L269.9 208.3 L270.5 209.2 L271.1 210.1 L271.7 211.0 L272.3 211.9 L272.9 212.8 L273.5 213.7 L274.1 214.7 L274.7 215.6 L275.2 216.5 L275.8 217.4 L276.3 218.3 L276.9 219.2 L277.4 220.2 L278.0 221.1 L278.5 222.0 L279.0 222.9 L279.5 223.8 L280.1 224.8 L280.6 225.7 L281.1 226.6 L281.7 227.5 L282.2 228.5 L282.7 229.4 L283.2 230.3 L283.7 231.2 L284.3 232.1 L284.8 233.0 L285.3 234.0 L285.8 234.9 L286.4 235.8 L286.9 236.7 L287.4 237.6 L287.9 238.5 L288.5 239.5 L289.0 240.4 L289.5 241.3 L290.0 242.2 L290.6 243.1 L291.1 244.0 L291.6 244.9 L292.2 245.8 L292.7 246.7 L293.2 247.7 L293.8 248.6 L294.3 249.5 L294.8 250.4 L295.4 251.3 L295.9 252.2 L296.5 253.1 L297.0 254.0 L297.6 254.9 L298.1 255.8 L298.7 256.7 L299.2 257.6 L299.8 258.5 L300.4 259.4 L301.0 260.3 L301.5 261.1 L302.1 262.0 L302.7 262.9 L303.4 263.7 L304.0 264.6 L304.6 265.4 L305.3 266.3 L305.9 267.1 L306.6 268.0 L307.2 268.8 L307.9 269.6 L308.6 270.4 L309.3 271.2 L310.0 272.0 L310.7 272.8 L311.4 273.6 L312.2 274.3 L312.9 275.1 L313.7 275.9 L314.4 276.6 L315.2 277.3 L316.0 278.1 L316.8 278.8 L317.6 279.5 L318.5 280.1 L319.3 280.8 L320.2 281.4 L321.0 282.1 L321.9 282.7 L322.8 283.3 L323.8 283.8 L324.7 284.4 L325.7 284.9 L326.6 285.4 L327.6 285.9 L328.6 286.3 L329.6 286.7 L330.7 287.0 L331.7 287.3 L332.8 287.6 L333.9 287.8 L335.0 288.0 L336.1 288.1 L337.2 288.2 L338.3 288.2 L339.4 288.2 L340.6 288.1 L341.7 288.0 L342.8 287.8 L343.9 287.5 L344.9 287.2 L346.0 286.8 L347.0 286.4 L348.0 285.9 L349.0 285.4 L350.0 284.9 L350.9 284.3 L351.9 283.6 L352.7 283.0 L353.6 282.3 L354.4 281.5 L355.2 280.8 L356.0 280.0 L356.7 279.2 L357.5 278.4 L358.2 277.6 L358.8 276.7 L359.5 275.9 L360.1 275.0 L360.8 274.1 L361.3 273.2 L361.9 272.3 L362.5 271.4 L363.0 270.5 L363.6 269.5 L364.1 268.6 L364.6 267.6 L365.1 266.7 L365.6 265.7 L366.0 264.8 L366.5 263.8 L367.0 262.9 L367.4 261.9 L367.8 260.9 L368.3 259.9 L368.7 259.0 L369.1 258.0 L369.5 257.0 L369.9 256.0 L370.3 255.0 L370.7 254.0 L371.1 253.0 L371.4 252.1 L371.8 251.1 L372.2 250.1 L372.5 249.1 L372.9 248.1 L373.2 247.1 L373.6 246.1 L373.9 245.1 L374.2 244.0 L374.5 243.0 L374.9 242.0 L375.2 241.0 L375.5 240.0 L375.8 239.0 L376.1 238.0 L376.4 237.0 L376.7 236.0 L377.0 234.9 L377.3 233.9 L377.6 232.9 L377.9 231.9 L378.2 230.9 L378.4 229.9 L378.7 228.8 L379.0 227.8 L379.3 226.8 L379.5 225.8 L379.8 224.7 L380.1 223.7 L380.3 222.7 L380.6 221.7 L380.9 220.7 L381.1 219.6 L381.4 218.6 L381.6 217.6 L381.9 216.6 L382.1 215.5 L382.4 214.5 L382.6 213.5 L382.9 212.5 L383.1 211.4 L383.3 210.4 L383.6 209.4 L383.8 208.3 L384.1 207.3 L384.3 206.3 L384.5 205.3 L384.7 204.2 L385.0 203.2 L385.2 202.2 L385.4 201.1 L385.6 200.1 L385.9 199.1 L386.1 198.0 L386.3 197.0 L386.5 196.0 L386.8 194.9 L387.0 193.9 L387.2 192.9 L387.4 191.9 L387.6 190.8 L387.9 189.8 L388.1 188.8 L388.3 187.7 L388.5 186.7 L388.8 185.7 L389.0 184.6 L389.2 183.6 L389.4 182.6 L389.7 181.6 L389.9 180.5 L390.1 179.5 L390.4 178.5 L390.6 177.4 L390.8 176.4 L391.0 175.4 L391.2 174.3 L391.5 173.3 L391.7 172.3 L391.9 171.3 L392.1 170.2 L392.4 169.2 L392.6 168.2 L392.8 167.1 L393.0 166.1 L393.2 165.1 L393.4 164.0 L393.6 163.0 L393.9 162.0 L394.1 160.9 L394.3 159.9 L394.5 158.9 L394.7 157.8 L394.9 156.8 L395.1 155.8 L395.4 154.8 L395.6 153.7 L395.8 152.7 L396.0 151.7 L396.3 150.6 L396.5 149.6 L396.7 148.6 L397.0 147.6 L397.2 146.5 L397.4 145.5 L397.7 144.5 L397.9 143.5 L398.2 142.4 L398.4 141.4 L398.7 140.4 L398.9 139.4 L399.2 138.4 L399.5 137.3 L399.7 136.3 L400.0 135.3 L400.3 134.3 L400.5 133.3 L400.8 132.3 L401.1 131.2 L401.4 130.2 L401.6 129.2 L401.9 128.2 L402.2 127.2 L402.5 126.2 L402.9 125.2 L403.2 124.2 L403.5 123.2 L403.9 122.2 L404.3 121.2 L404.7 120.2 L405.1 119.2 L405.6 118.3 L406.2 117.3 L406.8 116.4 L407.7 115.6 L408.7 114.9 L410.1 114.6 L411.5 114.9 L412.6 115.5 L413.5 116.3 L414.3 117.2 L415.0 118.1 L415.6 119.0 L416.2 120.0 L416.7 120.9 L417.2 121.9 L417.6 122.9 L418.1 123.9 L418.5 124.9 L418.8 125.9 L419.2 126.9 L419.5 127.9 L419.9 128.9 L420.2 130.0 L420.5 131.0 L420.8 132.0 L421.1 133.0 L421.4 134.0 L421.7 135.1 L421.9 136.1 L422.2 137.1 L422.5 138.1 L422.7 139.2 L423.0 140.2 L423.2 141.2 L423.5 142.2 L423.8 143.3 L424.0 144.3 L424.3 145.3 L424.5 146.3 L424.8 147.4 L425.0 148.4 L425.2 149.4 L425.5 150.4 L425.7 151.5 L426.0 152.5 L426.2 153.5 L426.5 154.6 L426.7 155.6 L426.9 156.6 L427.2 157.6 L427.4 158.7 L427.7 159.7 L427.9 160.7 L428.1 161.7 L428.4 162.8 L428.6 163.8 L428.9 164.8 L429.1 165.9 L429.3 166.9 L429.6 167.9 L429.8 168.9 L430.0 170.0 L430.2 171.0 L430.5 172.0 L430.7 173.1 L430.9 174.1 L431.2 175.1 L431.4 176.1 L431.6 177.2 L431.8 178.2 L432.1 179.2 L432.3 180.3 L432.5 181.3 L432.7 182.3 L433.0 183.3 L433.2 184.4 L433.4 185.4 L433.6 186.4 L433.9 187.5 L434.1 188.5 L434.3 189.5 L434.6 190.5 L434.8 191.6 L435.0 192.6 L435.3 193.6 L435.5 194.6 L435.8 195.7 L436.0 196.7 L436.2 197.7 L436.5 198.7 L436.7 199.8 L437.0 200.8 L437.2 201.8 L437.5 202.8 L437.8 203.8 L438.0 204.9 L438.3 205.9 L438.6 206.9 L438.8 207.9 L439.1 208.9 L439.4 209.9 L439.7 211.0 L439.9 212.0 L440.2 213.0 L440.5 214.0 L440.8 215.0 L441.1 216.0 L441.4 217.0 L441.7 218.0 L442.0 219.0 L442.3 220.0 L442.7 221.0 L443.0 222.0 L443.3 223.0 L443.7 224.0 L444.0 225.0 L444.4 226.0 L444.7 227.0 L445.1 228.0 L445.5 229.0 L445.9 229.9 L446.2 230.9 L446.7 231.9 L447.1 232.9 L447.5 233.8 L447.9 234.8 L448.4 235.7 L448.8 236.7 L449.3 237.6 L449.8 238.5 L450.3 239.5 L450.9 240.4 L451.4 241.2 L452.0 242.1 L452.6 243.0 L453.3 243.8 L453.9 244.6 L454.6 245.4 L455.4 246.2 L456.1 246.9 L457.0 247.5 L457.8 248.1 L458.7 248.6 L459.7 249.1 L460.7 249.4 L461.7 249.6 L462.8 249.7 L463.8 249.6 L464.9 249.5 L465.9 249.3 L466.9 248.9 L467.9 248.5 L468.8 248.0 L469.7 247.5 L470.6 246.9 L471.4 246.3 L472.3 245.7 L473.1 245.0 L473.9 244.3 L474.7 243.6 L475.4 242.9 L476.2 242.1 L476.9 241.4 L477.6 240.6 L478.3 239.8 L479.0 239.0 L479.7 238.2 L480.4 237.4 L481.1 236.6 L481.8 235.8 L482.5 235.0 L483.1 234.2 L483.8 233.4 L484.4 232.6 L485.1 231.7 L485.8 230.9 L486.4 230.1 L487.1 229.3 L487.7 228.4 L488.4 227.6 L489.0 226.8 L489.7 226.0 L490.3 225.1 L491.0 224.3 L491.6 223.5 L492.3 222.7 L493.0 221.8 L493.6 221.0 L494.3 220.2 L495.0 219.4 L495.7 218.6 L496.4 217.8 L497.1 217.0 L497.8 216.2 L498.5 215.4 L499.2 214.7 L499.9 213.9 L500.6 213.1 L501.4 212.4 L502.1 211.7 L502.9 210.9 L503.7 210.2 L504.5 209.5 L505.3 208.8 L506.1 208.2 L506.9 207.5 L507.8 206.9 L508.6 206.3 L509.5 205.7 L510.4 205.2 L511.3 204.6 L512.3 204.2 L513.2 203.7 L514.2 203.3 L515.2 203.0 L516.2 202.7 L517.2 202.4 L518.3 202.3 L519.3 202.1 L520.4 202.1 L521.4 202.1 L522.5 202.2 L523.5 202.3 L524.5 202.5 L525.6 202.7 L526.6 203.1 L527.6 203.4 L528.5 203.8 L529.5 204.3 L530.4 204.8 L531.3 205.3 L532.2 205.9 L533.1 206.5 L533.9 207.1 L534.8 207.8 L535.6 208.4 L536.4 209.1 L537.2 209.8 L537.9 210.5 L538.7 211.3 L539.4 212.0 L540.2 212.8 L540.9 213.5 L541.6 214.3 L542.3 215.1 L543.0 215.9 L543.7 216.7 L544.3 217.5 L545.0 218.3 L545.6 219.2 L546.3 220.0 L546.9 220.8 L547.6 221.7 L548.2 222.5 L548.8 223.4 L549.4 224.2 L550.0 225.1 L550.7 225.9 L551.3 226.8 L551.9 227.7 L552.5 228.5 L553.1 229.4 L553.6 230.3 L554.2 231.2 L554.8 232.0 L555.4 232.9 L556.0 233.8 L556.6 234.7 L557.1 235.6 L557.7 236.4 L558.3 237.3 L558.9 238.2 L559.4 239.1 L560.0 240.0 L560.6 240.9 L561.1 241.8 L561.7 242.6 L562.3 243.5 L562.9 244.4 L563.4 245.3 L564.0 246.2 L564.6 247.1 L565.1 248.0 L565.7 248.8 L566.3 249.7 L566.8 250.6 L567.4 251.5 L568.0 252.4 L568.6 253.3 L569.1 254.2 L569.7 255.0 L570.3 255.9 L570.9 256.8 L571.5 257.7 L572.0 258.6 L572.6 259.4 L573.2 260.3 L573.8 261.2 L574.4 262.1 L575.0 262.9 L575.6 263.8 L576.2 264.7 L576.8 265.5 L577.4 266.4 L578.0 267.3 L578.6 268.1 L579.2 269.0 L579.8 269.8 L580.4 270.7 L581.0 271.5 L581.6 272.4 L582.3 273.2 L582.9 274.1 L583.5 274.9 L584.1 275.8 L584.8 276.6 L585.4 277.4 L586.0 278.3 L586.7 279.1 L587.3 279.9 L587.9 280.8 L588.6 281.6 L589.2 282.4 L589.9 283.3 L590.5 284.1 L591.2 284.9 L591.8 285.7 L592.5 286.5 L593.2 287.3 L593.8 288.2 L594.5 289.0 L595.2 289.8 L595.8 290.6 L596.5 291.3 L597.2 292.1 L597.9 292.9 L598.6 293.7 L599.4 294.4 L600.1 295.2 L600.8 295.9 L601.6 296.7 L602.3 297.4 L603.1 298.1 L603.8 298.8 L604.6 299.5 L605.4 300.2 L606.2 300.9 L607.0 301.6 L607.8 302.3 L608.6 302.9 L609.4 303.6 L610.2 304.2 L611.0 304.8 L611.9 305.5 L612.7 306.1 L613.6 306.7 L614.4 307.3 L615.2 307.9 L616.1 308.5 L616.9 309.1 L617.8 309.7 L618.7 310.3 L619.5 310.9 L620.4 311.5 L621.3 312.0 L622.2 312.6 L623.0 313.1 L623.9 313.7 L624.8 314.2 L625.7 314.8 L626.6 315.3 L627.5 315.8 L628.4 316.3 L629.3 316.9 L630.2 317.4 L631.2 317.9 L632.1 318.4 L633.0 318.8 L633.9 319.3 L634.9 319.8 L635.8 320.3 L636.7 320.7 L637.7 321.2 L638.6 321.6 L639.6 322.1 L640.5 322.5 L641.5 323.0 L642.4 323.4 L643.4 323.8 L644.4 324.2 L645.3 324.6 L646.3 325.0 L647.3 325.4 L648.3 325.8 L649.2 326.2 L650.2 326.6 L651.2 327.0 L652.2 327.4 L653.2 327.7 L654.1 328.1 L654.6 328.3" stroke="#c41c7c" stroke-width="2.6"/>
</g>
</svg>
</body></html>
